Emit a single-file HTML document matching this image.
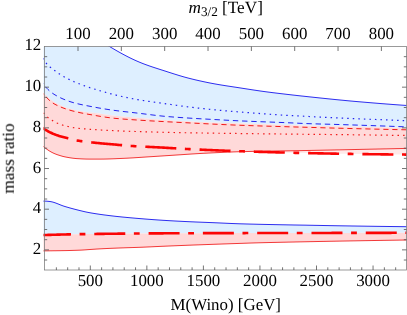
<!DOCTYPE html>
<html><head><meta charset="utf-8"><title>mass ratio plot</title>
<style>
html,body{margin:0;padding:0;background:#fff;}
body{width:407px;height:315px;overflow:hidden;font-family:"Liberation Serif",serif;}
svg{display:block;}
</style></head><body>
<svg width="407" height="315" viewBox="0 0 407 315">
<rect x="0" y="0" width="407" height="315" fill="#ffffff"/>
<defs><clipPath id="cp"><rect x="43.5" y="46.5" width="363.0" height="223.5"/></clipPath></defs>
<g clip-path="url(#cp)" fill="none">
<path d="M40.0 -20.00 L41.0 -18.73 L42.0 -17.48 L43.0 -16.23 L44.0 -15.00 L45.0 -13.78 L46.0 -12.56 L47.0 -11.36 L48.0 -10.16 L49.0 -8.98 L50.0 -7.80 L51.0 -6.63 L52.0 -5.48 L53.0 -4.33 L54.0 -3.19 L55.0 -2.05 L56.0 -0.93 L57.0 0.18 L58.0 1.29 L59.0 2.39 L60.0 3.48 L61.0 4.57 L62.0 5.64 L63.0 6.71 L64.0 7.77 L65.0 8.83 L66.0 9.87 L67.0 10.92 L68.0 11.95 L69.0 12.98 L70.0 14.00 L71.0 15.01 L72.0 16.00 L73.0 16.98 L74.0 17.94 L75.0 18.89 L76.0 19.82 L77.0 20.75 L78.0 21.67 L79.0 22.59 L80.0 23.50 L81.0 24.41 L82.0 25.32 L83.0 26.23 L84.0 27.14 L85.0 28.04 L86.0 28.93 L87.0 29.82 L88.0 30.70 L89.0 31.58 L90.0 32.43 L91.0 33.28 L92.0 34.11 L93.0 34.93 L94.0 35.72 L95.0 36.50 L96.0 37.26 L97.0 38.02 L98.0 38.76 L99.0 39.49 L100.0 40.21 L101.0 40.92 L102.0 41.62 L103.0 42.31 L104.0 42.99 L105.0 43.66 L106.0 44.31 L107.0 44.95 L108.0 45.58 L109.0 46.20 L110.0 46.80 L111.0 47.40 L112.0 48.00 L113.0 48.59 L114.0 49.18 L115.0 49.76 L116.0 50.34 L117.0 50.91 L118.0 51.48 L119.0 52.05 L120.0 52.60 L121.0 53.16 L122.0 53.70 L123.0 54.25 L124.0 54.78 L125.0 55.31 L126.0 55.83 L127.0 56.35 L128.0 56.86 L129.0 57.36 L130.0 57.86 L131.0 58.35 L132.0 58.83 L133.0 59.30 L134.0 59.77 L135.0 60.23 L136.0 60.68 L137.0 61.12 L138.0 61.56 L139.0 61.98 L140.0 62.40 L141.0 62.81 L142.0 63.21 L143.0 63.60 L144.0 63.98 L145.0 64.36 L146.0 64.73 L147.0 65.09 L148.0 65.45 L149.0 65.80 L150.0 66.15 L151.0 66.49 L152.0 66.83 L153.0 67.16 L154.0 67.49 L155.0 67.82 L156.0 68.14 L157.0 68.47 L158.0 68.79 L159.0 69.11 L160.0 69.43 L161.0 69.75 L162.0 70.07 L163.0 70.39 L164.0 70.71 L165.0 71.03 L166.0 71.35 L167.0 71.67 L168.0 72.00 L169.0 72.32 L170.0 72.64 L171.0 72.96 L172.0 73.28 L173.0 73.60 L174.0 73.92 L175.0 74.23 L176.0 74.54 L177.0 74.85 L178.0 75.16 L179.0 75.47 L180.0 75.77 L181.0 76.06 L182.0 76.36 L183.0 76.65 L184.0 76.93 L185.0 77.21 L186.0 77.48 L187.0 77.75 L188.0 78.02 L189.0 78.27 L190.0 78.53 L191.0 78.78 L192.0 79.03 L193.0 79.27 L194.0 79.51 L195.0 79.75 L196.0 79.99 L197.0 80.22 L198.0 80.45 L199.0 80.68 L200.0 80.90 L201.0 81.12 L202.0 81.34 L203.0 81.56 L204.0 81.77 L205.0 81.98 L206.0 82.19 L207.0 82.40 L208.0 82.60 L209.0 82.80 L210.0 83.00 L211.0 83.19 L212.0 83.38 L213.0 83.57 L214.0 83.76 L215.0 83.94 L216.0 84.12 L217.0 84.29 L218.0 84.47 L219.0 84.64 L220.0 84.80 L221.0 84.97 L222.0 85.13 L223.0 85.29 L224.0 85.45 L225.0 85.61 L226.0 85.77 L227.0 85.92 L228.0 86.08 L229.0 86.23 L230.0 86.38 L231.0 86.53 L232.0 86.68 L233.0 86.84 L234.0 86.99 L235.0 87.14 L236.0 87.29 L237.0 87.44 L238.0 87.59 L239.0 87.75 L240.0 87.90 L241.0 88.06 L242.0 88.21 L243.0 88.37 L244.0 88.52 L245.0 88.68 L246.0 88.83 L247.0 88.99 L248.0 89.15 L249.0 89.30 L250.0 89.46 L251.0 89.61 L252.0 89.77 L253.0 89.92 L254.0 90.07 L255.0 90.22 L256.0 90.37 L257.0 90.52 L258.0 90.67 L259.0 90.81 L260.0 90.96 L261.0 91.10 L262.0 91.24 L263.0 91.38 L264.0 91.52 L265.0 91.65 L266.0 91.79 L267.0 91.92 L268.0 92.05 L269.0 92.18 L270.0 92.31 L271.0 92.44 L272.0 92.56 L273.0 92.69 L274.0 92.81 L275.0 92.93 L276.0 93.06 L277.0 93.18 L278.0 93.30 L279.0 93.42 L280.0 93.54 L281.0 93.65 L282.0 93.77 L283.0 93.89 L284.0 94.01 L285.0 94.12 L286.0 94.24 L287.0 94.36 L288.0 94.47 L289.0 94.59 L290.0 94.70 L291.0 94.82 L292.0 94.93 L293.0 95.05 L294.0 95.16 L295.0 95.27 L296.0 95.38 L297.0 95.50 L298.0 95.61 L299.0 95.72 L300.0 95.83 L301.0 95.94 L302.0 96.05 L303.0 96.15 L304.0 96.26 L305.0 96.37 L306.0 96.48 L307.0 96.59 L308.0 96.69 L309.0 96.80 L310.0 96.91 L311.0 97.01 L312.0 97.12 L313.0 97.23 L314.0 97.33 L315.0 97.44 L316.0 97.54 L317.0 97.65 L318.0 97.76 L319.0 97.86 L320.0 97.97 L321.0 98.07 L322.0 98.18 L323.0 98.28 L324.0 98.38 L325.0 98.49 L326.0 98.59 L327.0 98.69 L328.0 98.80 L329.0 98.90 L330.0 99.00 L331.0 99.10 L332.0 99.21 L333.0 99.31 L334.0 99.41 L335.0 99.51 L336.0 99.61 L337.0 99.71 L338.0 99.80 L339.0 99.90 L340.0 100.00 L341.0 100.10 L342.0 100.19 L343.0 100.29 L344.0 100.39 L345.0 100.48 L346.0 100.58 L347.0 100.67 L348.0 100.77 L349.0 100.86 L350.0 100.95 L351.0 101.05 L352.0 101.14 L353.0 101.23 L354.0 101.32 L355.0 101.40 L356.0 101.49 L357.0 101.58 L358.0 101.66 L359.0 101.75 L360.0 101.84 L361.0 101.92 L362.0 102.01 L363.0 102.09 L364.0 102.18 L365.0 102.26 L366.0 102.35 L367.0 102.43 L368.0 102.51 L369.0 102.60 L370.0 102.68 L371.0 102.76 L372.0 102.85 L373.0 102.93 L374.0 103.01 L375.0 103.09 L376.0 103.17 L377.0 103.26 L378.0 103.34 L379.0 103.42 L380.0 103.50 L381.0 103.58 L382.0 103.66 L383.0 103.74 L384.0 103.81 L385.0 103.89 L386.0 103.97 L387.0 104.05 L388.0 104.12 L389.0 104.20 L390.0 104.28 L391.0 104.35 L392.0 104.43 L393.0 104.50 L394.0 104.58 L395.0 104.65 L396.0 104.73 L397.0 104.80 L398.0 104.87 L399.0 104.94 L400.0 105.01 L401.0 105.09 L402.0 105.16 L403.0 105.23 L404.0 105.29 L405.0 105.36 L406.0 105.43 L407.0 105.50 L407.0 128.00 L406.0 127.97 L405.0 127.95 L404.0 127.92 L403.0 127.90 L402.0 127.87 L401.0 127.84 L400.0 127.82 L399.0 127.79 L398.0 127.77 L397.0 127.74 L396.0 127.72 L395.0 127.69 L394.0 127.67 L393.0 127.64 L392.0 127.61 L391.0 127.59 L390.0 127.56 L389.0 127.54 L388.0 127.51 L387.0 127.49 L386.0 127.46 L385.0 127.44 L384.0 127.41 L383.0 127.39 L382.0 127.36 L381.0 127.34 L380.0 127.31 L379.0 127.29 L378.0 127.26 L377.0 127.24 L376.0 127.21 L375.0 127.19 L374.0 127.16 L373.0 127.14 L372.0 127.12 L371.0 127.09 L370.0 127.07 L369.0 127.04 L368.0 127.02 L367.0 126.99 L366.0 126.97 L365.0 126.94 L364.0 126.92 L363.0 126.90 L362.0 126.87 L361.0 126.85 L360.0 126.82 L359.0 126.80 L358.0 126.77 L357.0 126.75 L356.0 126.73 L355.0 126.70 L354.0 126.68 L353.0 126.65 L352.0 126.63 L351.0 126.61 L350.0 126.58 L349.0 126.56 L348.0 126.54 L347.0 126.51 L346.0 126.49 L345.0 126.46 L344.0 126.44 L343.0 126.42 L342.0 126.39 L341.0 126.37 L340.0 126.35 L339.0 126.32 L338.0 126.30 L337.0 126.28 L336.0 126.25 L335.0 126.23 L334.0 126.21 L333.0 126.19 L332.0 126.16 L331.0 126.14 L330.0 126.12 L329.0 126.10 L328.0 126.08 L327.0 126.06 L326.0 126.03 L325.0 126.01 L324.0 125.99 L323.0 125.97 L322.0 125.95 L321.0 125.93 L320.0 125.91 L319.0 125.88 L318.0 125.86 L317.0 125.84 L316.0 125.82 L315.0 125.79 L314.0 125.77 L313.0 125.75 L312.0 125.72 L311.0 125.70 L310.0 125.68 L309.0 125.65 L308.0 125.63 L307.0 125.60 L306.0 125.57 L305.0 125.55 L304.0 125.52 L303.0 125.49 L302.0 125.47 L301.0 125.44 L300.0 125.41 L299.0 125.38 L298.0 125.35 L297.0 125.32 L296.0 125.30 L295.0 125.27 L294.0 125.24 L293.0 125.21 L292.0 125.18 L291.0 125.15 L290.0 125.12 L289.0 125.08 L288.0 125.05 L287.0 125.02 L286.0 124.99 L285.0 124.96 L284.0 124.93 L283.0 124.90 L282.0 124.86 L281.0 124.83 L280.0 124.80 L279.0 124.77 L278.0 124.73 L277.0 124.70 L276.0 124.67 L275.0 124.63 L274.0 124.60 L273.0 124.57 L272.0 124.53 L271.0 124.50 L270.0 124.47 L269.0 124.43 L268.0 124.40 L267.0 124.36 L266.0 124.33 L265.0 124.30 L264.0 124.26 L263.0 124.23 L262.0 124.19 L261.0 124.16 L260.0 124.13 L259.0 124.09 L258.0 124.06 L257.0 124.02 L256.0 123.99 L255.0 123.96 L254.0 123.92 L253.0 123.89 L252.0 123.85 L251.0 123.82 L250.0 123.79 L249.0 123.75 L248.0 123.72 L247.0 123.69 L246.0 123.65 L245.0 123.62 L244.0 123.59 L243.0 123.55 L242.0 123.52 L241.0 123.49 L240.0 123.46 L239.0 123.42 L238.0 123.39 L237.0 123.36 L236.0 123.33 L235.0 123.30 L234.0 123.26 L233.0 123.23 L232.0 123.20 L231.0 123.17 L230.0 123.14 L229.0 123.11 L228.0 123.08 L227.0 123.05 L226.0 123.02 L225.0 122.99 L224.0 122.96 L223.0 122.93 L222.0 122.89 L221.0 122.86 L220.0 122.83 L219.0 122.79 L218.0 122.76 L217.0 122.72 L216.0 122.69 L215.0 122.65 L214.0 122.61 L213.0 122.57 L212.0 122.53 L211.0 122.49 L210.0 122.45 L209.0 122.40 L208.0 122.36 L207.0 122.31 L206.0 122.27 L205.0 122.22 L204.0 122.17 L203.0 122.12 L202.0 122.07 L201.0 122.02 L200.0 121.97 L199.0 121.92 L198.0 121.87 L197.0 121.82 L196.0 121.76 L195.0 121.71 L194.0 121.66 L193.0 121.61 L192.0 121.55 L191.0 121.50 L190.0 121.45 L189.0 121.39 L188.0 121.34 L187.0 121.29 L186.0 121.24 L185.0 121.18 L184.0 121.13 L183.0 121.08 L182.0 121.02 L181.0 120.97 L180.0 120.92 L179.0 120.86 L178.0 120.81 L177.0 120.75 L176.0 120.70 L175.0 120.64 L174.0 120.58 L173.0 120.52 L172.0 120.47 L171.0 120.41 L170.0 120.35 L169.0 120.28 L168.0 120.22 L167.0 120.16 L166.0 120.09 L165.0 120.03 L164.0 119.96 L163.0 119.89 L162.0 119.82 L161.0 119.75 L160.0 119.67 L159.0 119.60 L158.0 119.52 L157.0 119.44 L156.0 119.36 L155.0 119.28 L154.0 119.20 L153.0 119.12 L152.0 119.03 L151.0 118.95 L150.0 118.86 L149.0 118.78 L148.0 118.69 L147.0 118.61 L146.0 118.52 L145.0 118.43 L144.0 118.35 L143.0 118.26 L142.0 118.17 L141.0 118.09 L140.0 118.00 L139.0 117.91 L138.0 117.83 L137.0 117.74 L136.0 117.66 L135.0 117.58 L134.0 117.49 L133.0 117.41 L132.0 117.32 L131.0 117.24 L130.0 117.16 L129.0 117.07 L128.0 116.98 L127.0 116.90 L126.0 116.81 L125.0 116.72 L124.0 116.63 L123.0 116.54 L122.0 116.44 L121.0 116.35 L120.0 116.25 L119.0 116.16 L118.0 116.06 L117.0 115.95 L116.0 115.85 L115.0 115.74 L114.0 115.63 L113.0 115.52 L112.0 115.40 L111.0 115.28 L110.0 115.15 L109.0 115.01 L108.0 114.87 L107.0 114.73 L106.0 114.59 L105.0 114.44 L104.0 114.30 L103.0 114.16 L102.0 114.01 L101.0 113.87 L100.0 113.73 L99.0 113.60 L98.0 113.47 L97.0 113.34 L96.0 113.22 L95.0 113.10 L94.0 112.98 L93.0 112.86 L92.0 112.75 L91.0 112.62 L90.0 112.50 L89.0 112.38 L88.0 112.25 L87.0 112.11 L86.0 111.97 L85.0 111.82 L84.0 111.67 L83.0 111.51 L82.0 111.35 L81.0 111.18 L80.0 111.01 L79.0 110.83 L78.0 110.64 L77.0 110.45 L76.0 110.25 L75.0 110.04 L74.0 109.82 L73.0 109.59 L72.0 109.35 L71.0 109.10 L70.0 108.84 L69.0 108.56 L68.0 108.26 L67.0 107.94 L66.0 107.60 L65.0 107.23 L64.0 106.85 L63.0 106.44 L62.0 106.02 L61.0 105.57 L60.0 105.10 L59.0 104.62 L58.0 104.11 L57.0 103.58 L56.0 103.04 L55.0 102.47 L54.0 101.88 L53.0 101.23 L52.0 100.52 L51.0 99.76 L50.0 98.95 L49.0 98.10 L48.0 97.20 L47.0 96.27 L46.0 95.30 L45.0 94.30 L44.0 93.20 L43.0 92.01 L42.0 90.73 L41.0 89.39 L40.0 88.00 Z" fill="#deefff" stroke="none"/>
<path d="M40.0 88.00 L41.0 89.39 L42.0 90.73 L43.0 92.01 L44.0 93.20 L45.0 94.30 L46.0 95.30 L47.0 96.27 L48.0 97.20 L49.0 98.10 L50.0 98.95 L51.0 99.76 L52.0 100.52 L53.0 101.23 L54.0 101.88 L55.0 102.47 L56.0 103.04 L57.0 103.58 L58.0 104.11 L59.0 104.62 L60.0 105.10 L61.0 105.57 L62.0 106.02 L63.0 106.44 L64.0 106.85 L65.0 107.23 L66.0 107.60 L67.0 107.94 L68.0 108.26 L69.0 108.56 L70.0 108.84 L71.0 109.10 L72.0 109.35 L73.0 109.59 L74.0 109.82 L75.0 110.04 L76.0 110.25 L77.0 110.45 L78.0 110.64 L79.0 110.83 L80.0 111.01 L81.0 111.18 L82.0 111.35 L83.0 111.51 L84.0 111.67 L85.0 111.82 L86.0 111.97 L87.0 112.11 L88.0 112.25 L89.0 112.38 L90.0 112.50 L91.0 112.62 L92.0 112.75 L93.0 112.86 L94.0 112.98 L95.0 113.10 L96.0 113.22 L97.0 113.34 L98.0 113.47 L99.0 113.60 L100.0 113.73 L101.0 113.87 L102.0 114.01 L103.0 114.16 L104.0 114.30 L105.0 114.44 L106.0 114.59 L107.0 114.73 L108.0 114.87 L109.0 115.01 L110.0 115.15 L111.0 115.28 L112.0 115.40 L113.0 115.52 L114.0 115.63 L115.0 115.74 L116.0 115.85 L117.0 115.95 L118.0 116.06 L119.0 116.16 L120.0 116.25 L121.0 116.35 L122.0 116.44 L123.0 116.54 L124.0 116.63 L125.0 116.72 L126.0 116.81 L127.0 116.90 L128.0 116.98 L129.0 117.07 L130.0 117.16 L131.0 117.24 L132.0 117.32 L133.0 117.41 L134.0 117.49 L135.0 117.58 L136.0 117.66 L137.0 117.74 L138.0 117.83 L139.0 117.91 L140.0 118.00 L141.0 118.09 L142.0 118.17 L143.0 118.26 L144.0 118.35 L145.0 118.43 L146.0 118.52 L147.0 118.61 L148.0 118.69 L149.0 118.78 L150.0 118.86 L151.0 118.95 L152.0 119.03 L153.0 119.12 L154.0 119.20 L155.0 119.28 L156.0 119.36 L157.0 119.44 L158.0 119.52 L159.0 119.60 L160.0 119.67 L161.0 119.75 L162.0 119.82 L163.0 119.89 L164.0 119.96 L165.0 120.03 L166.0 120.09 L167.0 120.16 L168.0 120.22 L169.0 120.28 L170.0 120.35 L171.0 120.41 L172.0 120.47 L173.0 120.52 L174.0 120.58 L175.0 120.64 L176.0 120.70 L177.0 120.75 L178.0 120.81 L179.0 120.86 L180.0 120.92 L181.0 120.97 L182.0 121.02 L183.0 121.08 L184.0 121.13 L185.0 121.18 L186.0 121.24 L187.0 121.29 L188.0 121.34 L189.0 121.39 L190.0 121.45 L191.0 121.50 L192.0 121.55 L193.0 121.61 L194.0 121.66 L195.0 121.71 L196.0 121.76 L197.0 121.82 L198.0 121.87 L199.0 121.92 L200.0 121.97 L201.0 122.02 L202.0 122.07 L203.0 122.12 L204.0 122.17 L205.0 122.22 L206.0 122.27 L207.0 122.31 L208.0 122.36 L209.0 122.40 L210.0 122.45 L211.0 122.49 L212.0 122.53 L213.0 122.57 L214.0 122.61 L215.0 122.65 L216.0 122.69 L217.0 122.72 L218.0 122.76 L219.0 122.79 L220.0 122.83 L221.0 122.86 L222.0 122.89 L223.0 122.93 L224.0 122.96 L225.0 122.99 L226.0 123.02 L227.0 123.05 L228.0 123.08 L229.0 123.11 L230.0 123.14 L231.0 123.17 L232.0 123.20 L233.0 123.23 L234.0 123.26 L235.0 123.30 L236.0 123.33 L237.0 123.36 L238.0 123.39 L239.0 123.42 L240.0 123.46 L241.0 123.49 L242.0 123.52 L243.0 123.55 L244.0 123.59 L245.0 123.62 L246.0 123.65 L247.0 123.69 L248.0 123.72 L249.0 123.75 L250.0 123.79 L251.0 123.82 L252.0 123.85 L253.0 123.89 L254.0 123.92 L255.0 123.96 L256.0 123.99 L257.0 124.02 L258.0 124.06 L259.0 124.09 L260.0 124.13 L261.0 124.16 L262.0 124.19 L263.0 124.23 L264.0 124.26 L265.0 124.30 L266.0 124.33 L267.0 124.36 L268.0 124.40 L269.0 124.43 L270.0 124.47 L271.0 124.50 L272.0 124.53 L273.0 124.57 L274.0 124.60 L275.0 124.63 L276.0 124.67 L277.0 124.70 L278.0 124.73 L279.0 124.77 L280.0 124.80 L281.0 124.83 L282.0 124.86 L283.0 124.90 L284.0 124.93 L285.0 124.96 L286.0 124.99 L287.0 125.02 L288.0 125.05 L289.0 125.08 L290.0 125.12 L291.0 125.15 L292.0 125.18 L293.0 125.21 L294.0 125.24 L295.0 125.27 L296.0 125.30 L297.0 125.32 L298.0 125.35 L299.0 125.38 L300.0 125.41 L301.0 125.44 L302.0 125.47 L303.0 125.49 L304.0 125.52 L305.0 125.55 L306.0 125.57 L307.0 125.60 L308.0 125.63 L309.0 125.65 L310.0 125.68 L311.0 125.70 L312.0 125.72 L313.0 125.75 L314.0 125.77 L315.0 125.79 L316.0 125.82 L317.0 125.84 L318.0 125.86 L319.0 125.88 L320.0 125.91 L321.0 125.93 L322.0 125.95 L323.0 125.97 L324.0 125.99 L325.0 126.01 L326.0 126.03 L327.0 126.06 L328.0 126.08 L329.0 126.10 L330.0 126.12 L331.0 126.14 L332.0 126.16 L333.0 126.19 L334.0 126.21 L335.0 126.23 L336.0 126.25 L337.0 126.28 L338.0 126.30 L339.0 126.32 L340.0 126.35 L341.0 126.37 L342.0 126.39 L343.0 126.42 L344.0 126.44 L345.0 126.46 L346.0 126.49 L347.0 126.51 L348.0 126.54 L349.0 126.56 L350.0 126.58 L351.0 126.61 L352.0 126.63 L353.0 126.65 L354.0 126.68 L355.0 126.70 L356.0 126.73 L357.0 126.75 L358.0 126.77 L359.0 126.80 L360.0 126.82 L361.0 126.85 L362.0 126.87 L363.0 126.90 L364.0 126.92 L365.0 126.94 L366.0 126.97 L367.0 126.99 L368.0 127.02 L369.0 127.04 L370.0 127.07 L371.0 127.09 L372.0 127.12 L373.0 127.14 L374.0 127.16 L375.0 127.19 L376.0 127.21 L377.0 127.24 L378.0 127.26 L379.0 127.29 L380.0 127.31 L381.0 127.34 L382.0 127.36 L383.0 127.39 L384.0 127.41 L385.0 127.44 L386.0 127.46 L387.0 127.49 L388.0 127.51 L389.0 127.54 L390.0 127.56 L391.0 127.59 L392.0 127.61 L393.0 127.64 L394.0 127.67 L395.0 127.69 L396.0 127.72 L397.0 127.74 L398.0 127.77 L399.0 127.79 L400.0 127.82 L401.0 127.84 L402.0 127.87 L403.0 127.90 L404.0 127.92 L405.0 127.95 L406.0 127.97 L407.0 128.00 L407.0 148.40 L406.0 148.42 L405.0 148.44 L404.0 148.47 L403.0 148.49 L402.0 148.51 L401.0 148.53 L400.0 148.55 L399.0 148.58 L398.0 148.60 L397.0 148.62 L396.0 148.64 L395.0 148.66 L394.0 148.69 L393.0 148.71 L392.0 148.73 L391.0 148.75 L390.0 148.77 L389.0 148.80 L388.0 148.82 L387.0 148.84 L386.0 148.86 L385.0 148.88 L384.0 148.90 L383.0 148.93 L382.0 148.95 L381.0 148.97 L380.0 148.99 L379.0 149.01 L378.0 149.03 L377.0 149.05 L376.0 149.08 L375.0 149.10 L374.0 149.12 L373.0 149.14 L372.0 149.16 L371.0 149.18 L370.0 149.20 L369.0 149.23 L368.0 149.25 L367.0 149.27 L366.0 149.29 L365.0 149.31 L364.0 149.33 L363.0 149.35 L362.0 149.37 L361.0 149.39 L360.0 149.42 L359.0 149.44 L358.0 149.46 L357.0 149.48 L356.0 149.50 L355.0 149.52 L354.0 149.54 L353.0 149.56 L352.0 149.58 L351.0 149.60 L350.0 149.63 L349.0 149.65 L348.0 149.67 L347.0 149.69 L346.0 149.71 L345.0 149.73 L344.0 149.75 L343.0 149.77 L342.0 149.79 L341.0 149.81 L340.0 149.84 L339.0 149.86 L338.0 149.88 L337.0 149.90 L336.0 149.92 L335.0 149.94 L334.0 149.96 L333.0 149.98 L332.0 150.00 L331.0 150.02 L330.0 150.04 L329.0 150.06 L328.0 150.08 L327.0 150.10 L326.0 150.12 L325.0 150.14 L324.0 150.16 L323.0 150.18 L322.0 150.20 L321.0 150.22 L320.0 150.24 L319.0 150.27 L318.0 150.28 L317.0 150.30 L316.0 150.32 L315.0 150.34 L314.0 150.36 L313.0 150.38 L312.0 150.40 L311.0 150.42 L310.0 150.44 L309.0 150.46 L308.0 150.48 L307.0 150.50 L306.0 150.52 L305.0 150.54 L304.0 150.56 L303.0 150.57 L302.0 150.59 L301.0 150.61 L300.0 150.63 L299.0 150.64 L298.0 150.66 L297.0 150.68 L296.0 150.69 L295.0 150.71 L294.0 150.73 L293.0 150.74 L292.0 150.76 L291.0 150.77 L290.0 150.79 L289.0 150.80 L288.0 150.82 L287.0 150.83 L286.0 150.85 L285.0 150.86 L284.0 150.88 L283.0 150.89 L282.0 150.91 L281.0 150.92 L280.0 150.94 L279.0 150.95 L278.0 150.97 L277.0 150.98 L276.0 151.00 L275.0 151.01 L274.0 151.03 L273.0 151.05 L272.0 151.06 L271.0 151.08 L270.0 151.09 L269.0 151.11 L268.0 151.12 L267.0 151.14 L266.0 151.16 L265.0 151.17 L264.0 151.19 L263.0 151.21 L262.0 151.23 L261.0 151.24 L260.0 151.26 L259.0 151.28 L258.0 151.30 L257.0 151.32 L256.0 151.34 L255.0 151.36 L254.0 151.38 L253.0 151.40 L252.0 151.42 L251.0 151.44 L250.0 151.46 L249.0 151.48 L248.0 151.50 L247.0 151.53 L246.0 151.55 L245.0 151.57 L244.0 151.60 L243.0 151.62 L242.0 151.65 L241.0 151.67 L240.0 151.70 L239.0 151.73 L238.0 151.76 L237.0 151.79 L236.0 151.82 L235.0 151.86 L234.0 151.89 L233.0 151.93 L232.0 151.97 L231.0 152.01 L230.0 152.05 L229.0 152.09 L228.0 152.13 L227.0 152.18 L226.0 152.22 L225.0 152.27 L224.0 152.31 L223.0 152.36 L222.0 152.41 L221.0 152.45 L220.0 152.50 L219.0 152.55 L218.0 152.60 L217.0 152.64 L216.0 152.69 L215.0 152.74 L214.0 152.79 L213.0 152.83 L212.0 152.88 L211.0 152.93 L210.0 152.98 L209.0 153.03 L208.0 153.07 L207.0 153.13 L206.0 153.18 L205.0 153.23 L204.0 153.28 L203.0 153.33 L202.0 153.39 L201.0 153.44 L200.0 153.50 L199.0 153.56 L198.0 153.62 L197.0 153.67 L196.0 153.73 L195.0 153.80 L194.0 153.86 L193.0 153.92 L192.0 153.98 L191.0 154.05 L190.0 154.11 L189.0 154.18 L188.0 154.25 L187.0 154.31 L186.0 154.38 L185.0 154.45 L184.0 154.51 L183.0 154.58 L182.0 154.65 L181.0 154.72 L180.0 154.78 L179.0 154.85 L178.0 154.92 L177.0 154.98 L176.0 155.05 L175.0 155.12 L174.0 155.18 L173.0 155.25 L172.0 155.31 L171.0 155.38 L170.0 155.44 L169.0 155.51 L168.0 155.57 L167.0 155.64 L166.0 155.70 L165.0 155.77 L164.0 155.83 L163.0 155.90 L162.0 155.97 L161.0 156.03 L160.0 156.10 L159.0 156.16 L158.0 156.23 L157.0 156.29 L156.0 156.36 L155.0 156.42 L154.0 156.49 L153.0 156.55 L152.0 156.62 L151.0 156.68 L150.0 156.74 L149.0 156.81 L148.0 156.87 L147.0 156.93 L146.0 157.00 L145.0 157.07 L144.0 157.13 L143.0 157.20 L142.0 157.27 L141.0 157.34 L140.0 157.40 L139.0 157.47 L138.0 157.54 L137.0 157.60 L136.0 157.67 L135.0 157.73 L134.0 157.80 L133.0 157.86 L132.0 157.92 L131.0 157.98 L130.0 158.03 L129.0 158.09 L128.0 158.14 L127.0 158.19 L126.0 158.24 L125.0 158.28 L124.0 158.33 L123.0 158.37 L122.0 158.41 L121.0 158.46 L120.0 158.50 L119.0 158.55 L118.0 158.59 L117.0 158.64 L116.0 158.68 L115.0 158.72 L114.0 158.76 L113.0 158.80 L112.0 158.84 L111.0 158.88 L110.0 158.91 L109.0 158.95 L108.0 158.98 L107.0 159.00 L106.0 159.03 L105.0 159.05 L104.0 159.07 L103.0 159.08 L102.0 159.09 L101.0 159.10 L100.0 159.10 L99.0 159.10 L98.0 159.10 L97.0 159.10 L96.0 159.10 L95.0 159.10 L94.0 159.10 L93.0 159.10 L92.0 159.10 L91.0 159.10 L90.0 159.10 L89.0 159.10 L88.0 159.09 L87.0 159.08 L86.0 159.06 L85.0 159.03 L84.0 158.99 L83.0 158.95 L82.0 158.90 L81.0 158.85 L80.0 158.79 L79.0 158.73 L78.0 158.67 L77.0 158.61 L76.0 158.54 L75.0 158.45 L74.0 158.34 L73.0 158.22 L72.0 158.09 L71.0 157.95 L70.0 157.79 L69.0 157.62 L68.0 157.45 L67.0 157.27 L66.0 157.08 L65.0 156.88 L64.0 156.67 L63.0 156.43 L62.0 156.16 L61.0 155.86 L60.0 155.55 L59.0 155.24 L58.0 154.91 L57.0 154.58 L56.0 154.21 L55.0 153.82 L54.0 153.40 L53.0 152.93 L52.0 152.43 L51.0 151.90 L50.0 151.32 L49.0 150.71 L48.0 150.04 L47.0 149.34 L46.0 148.61 L45.0 147.85 L44.0 147.05 L43.0 146.22 L42.0 145.35 L41.0 144.44 L40.0 143.50 Z" fill="#ffd9d9" stroke="none"/>
<path d="M249.0 151.48 L250.0 151.46 L251.0 151.44 L252.0 151.42 L253.0 151.40 L254.0 151.38 L255.0 151.36 L256.0 151.34 L257.0 151.32 L258.0 151.30 L259.0 151.28 L260.0 151.26 L261.0 151.24 L262.0 151.23 L263.0 151.21 L264.0 151.19 L265.0 151.17 L266.0 151.16 L267.0 151.14 L268.0 151.12 L269.0 151.11 L270.0 151.09 L271.0 151.08 L272.0 151.06 L273.0 151.05 L274.0 151.03 L275.0 151.01 L276.0 151.00 L277.0 150.98 L278.0 150.97 L279.0 150.95 L280.0 150.94 L281.0 150.92 L282.0 150.91 L283.0 150.89 L284.0 150.88 L285.0 150.86 L286.0 150.85 L287.0 150.83 L288.0 150.82 L289.0 150.80 L290.0 150.79 L291.0 150.77 L292.0 150.76 L293.0 150.74 L294.0 150.73 L295.0 150.71 L296.0 150.69 L297.0 150.68 L298.0 150.66 L299.0 150.64 L300.0 150.63 L301.0 150.61 L302.0 150.59 L303.0 150.57 L304.0 150.56 L305.0 150.54 L306.0 150.52 L307.0 150.50 L308.0 150.48 L309.0 150.46 L310.0 150.44 L311.0 150.42 L312.0 150.40 L313.0 150.38 L314.0 150.36 L315.0 150.34 L316.0 150.32 L317.0 150.30 L318.0 150.28 L319.0 150.27 L320.0 150.24 L321.0 150.22 L322.0 150.20 L323.0 150.18 L324.0 150.16 L325.0 150.14 L326.0 150.12 L327.0 150.10 L328.0 150.08 L329.0 150.06 L330.0 150.04 L331.0 150.02 L332.0 150.00 L333.0 149.98 L334.0 149.96 L335.0 149.94 L336.0 149.92 L337.0 149.90 L338.0 149.88 L339.0 149.86 L340.0 149.84 L341.0 149.81 L342.0 149.79 L343.0 149.77 L344.0 149.75 L345.0 149.73 L346.0 149.71 L347.0 149.69 L348.0 149.67 L349.0 149.65 L350.0 149.63 L351.0 149.60 L352.0 149.58 L353.0 149.56 L354.0 149.54 L355.0 149.52 L356.0 149.50 L357.0 149.48 L358.0 149.46 L359.0 149.44 L360.0 149.42 L361.0 149.39 L362.0 149.37 L363.0 149.35 L364.0 149.33 L365.0 149.31 L366.0 149.29 L367.0 149.27 L368.0 149.25 L369.0 149.23 L370.0 149.20 L371.0 149.18 L372.0 149.16 L373.0 149.14 L374.0 149.12 L375.0 149.10 L376.0 149.08 L377.0 149.05 L378.0 149.03 L379.0 149.01 L380.0 148.99 L381.0 148.97 L382.0 148.95 L383.0 148.93 L384.0 148.90 L385.0 148.88 L386.0 148.86 L387.0 148.84 L388.0 148.82 L389.0 148.80 L390.0 148.77 L391.0 148.75 L392.0 148.73 L393.0 148.71 L394.0 148.69 L395.0 148.66 L396.0 148.64 L397.0 148.62 L398.0 148.60 L399.0 148.58 L400.0 148.55 L401.0 148.53 L402.0 148.51 L403.0 148.49 L404.0 148.47 L405.0 148.44 L406.0 148.42 L407.0 148.40 L407.0 154.60 L406.0 154.59 L405.0 154.58 L404.0 154.57 L403.0 154.57 L402.0 154.56 L401.0 154.55 L400.0 154.54 L399.0 154.53 L398.0 154.52 L397.0 154.51 L396.0 154.50 L395.0 154.49 L394.0 154.48 L393.0 154.47 L392.0 154.46 L391.0 154.45 L390.0 154.44 L389.0 154.43 L388.0 154.42 L387.0 154.41 L386.0 154.39 L385.0 154.38 L384.0 154.37 L383.0 154.36 L382.0 154.35 L381.0 154.34 L380.0 154.32 L379.0 154.31 L378.0 154.30 L377.0 154.29 L376.0 154.27 L375.0 154.26 L374.0 154.25 L373.0 154.24 L372.0 154.22 L371.0 154.21 L370.0 154.20 L369.0 154.18 L368.0 154.17 L367.0 154.16 L366.0 154.14 L365.0 154.13 L364.0 154.11 L363.0 154.10 L362.0 154.08 L361.0 154.07 L360.0 154.06 L359.0 154.04 L358.0 154.03 L357.0 154.01 L356.0 154.00 L355.0 153.98 L354.0 153.97 L353.0 153.95 L352.0 153.93 L351.0 153.92 L350.0 153.90 L349.0 153.89 L348.0 153.87 L347.0 153.85 L346.0 153.84 L345.0 153.82 L344.0 153.80 L343.0 153.79 L342.0 153.77 L341.0 153.75 L340.0 153.74 L339.0 153.72 L338.0 153.70 L337.0 153.68 L336.0 153.67 L335.0 153.65 L334.0 153.63 L333.0 153.61 L332.0 153.59 L331.0 153.58 L330.0 153.56 L329.0 153.54 L328.0 153.52 L327.0 153.50 L326.0 153.48 L325.0 153.46 L324.0 153.44 L323.0 153.42 L322.0 153.41 L321.0 153.39 L320.0 153.37 L319.0 153.35 L318.0 153.33 L317.0 153.31 L316.0 153.29 L315.0 153.27 L314.0 153.25 L313.0 153.23 L312.0 153.20 L311.0 153.18 L310.0 153.16 L309.0 153.14 L308.0 153.12 L307.0 153.10 L306.0 153.08 L305.0 153.06 L304.0 153.04 L303.0 153.01 L302.0 152.99 L301.0 152.97 L300.0 152.95 L299.0 152.92 L298.0 152.90 L297.0 152.88 L296.0 152.85 L295.0 152.83 L294.0 152.80 L293.0 152.78 L292.0 152.75 L291.0 152.73 L290.0 152.70 L289.0 152.68 L288.0 152.65 L287.0 152.63 L286.0 152.60 L285.0 152.58 L284.0 152.55 L283.0 152.52 L282.0 152.50 L281.0 152.47 L280.0 152.44 L279.0 152.42 L278.0 152.39 L277.0 152.36 L276.0 152.33 L275.0 152.30 L274.0 152.28 L273.0 152.25 L272.0 152.22 L271.0 152.19 L270.0 152.16 L269.0 152.13 L268.0 152.10 L267.0 152.07 L266.0 152.04 L265.0 152.01 L264.0 151.98 L263.0 151.95 L262.0 151.92 L261.0 151.89 L260.0 151.86 L259.0 151.83 L258.0 151.80 L257.0 151.77 L256.0 151.74 L255.0 151.70 L254.0 151.67 L253.0 151.64 L252.0 151.61 L251.0 151.58 L250.0 151.54 L249.0 151.51 Z" fill="#ffe9e9" stroke="none"/>
<path d="M40.0 201.30 L41.0 201.21 L42.0 201.16 L43.0 201.12 L44.0 201.10 L45.0 201.11 L46.0 201.14 L47.0 201.21 L48.0 201.31 L49.0 201.41 L50.0 201.52 L51.0 201.68 L52.0 201.89 L53.0 202.15 L54.0 202.44 L55.0 202.78 L56.0 203.14 L57.0 203.52 L58.0 203.92 L59.0 204.32 L60.0 204.73 L61.0 205.13 L62.0 205.51 L63.0 205.88 L64.0 206.21 L65.0 206.52 L66.0 206.82 L67.0 207.11 L68.0 207.40 L69.0 207.69 L70.0 207.97 L71.0 208.25 L72.0 208.52 L73.0 208.79 L74.0 209.05 L75.0 209.32 L76.0 209.57 L77.0 209.83 L78.0 210.08 L79.0 210.33 L80.0 210.58 L81.0 210.82 L82.0 211.07 L83.0 211.31 L84.0 211.54 L85.0 211.77 L86.0 211.99 L87.0 212.20 L88.0 212.39 L89.0 212.58 L90.0 212.76 L91.0 212.94 L92.0 213.11 L93.0 213.27 L94.0 213.44 L95.0 213.60 L96.0 213.76 L97.0 213.91 L98.0 214.06 L99.0 214.21 L100.0 214.36 L101.0 214.50 L102.0 214.64 L103.0 214.77 L104.0 214.91 L105.0 215.04 L106.0 215.17 L107.0 215.30 L108.0 215.42 L109.0 215.55 L110.0 215.67 L111.0 215.79 L112.0 215.90 L113.0 216.02 L114.0 216.13 L115.0 216.25 L116.0 216.36 L117.0 216.47 L118.0 216.57 L119.0 216.68 L120.0 216.78 L121.0 216.89 L122.0 216.99 L123.0 217.09 L124.0 217.18 L125.0 217.28 L126.0 217.37 L127.0 217.47 L128.0 217.56 L129.0 217.65 L130.0 217.74 L131.0 217.83 L132.0 217.92 L133.0 218.01 L134.0 218.09 L135.0 218.18 L136.0 218.27 L137.0 218.35 L138.0 218.43 L139.0 218.52 L140.0 218.60 L141.0 218.68 L142.0 218.76 L143.0 218.84 L144.0 218.93 L145.0 219.01 L146.0 219.08 L147.0 219.16 L148.0 219.24 L149.0 219.32 L150.0 219.39 L151.0 219.47 L152.0 219.54 L153.0 219.62 L154.0 219.69 L155.0 219.76 L156.0 219.83 L157.0 219.90 L158.0 219.97 L159.0 220.04 L160.0 220.11 L161.0 220.17 L162.0 220.24 L163.0 220.30 L164.0 220.36 L165.0 220.42 L166.0 220.49 L167.0 220.55 L168.0 220.60 L169.0 220.66 L170.0 220.72 L171.0 220.78 L172.0 220.83 L173.0 220.89 L174.0 220.94 L175.0 221.00 L176.0 221.05 L177.0 221.11 L178.0 221.16 L179.0 221.21 L180.0 221.26 L181.0 221.31 L182.0 221.36 L183.0 221.41 L184.0 221.46 L185.0 221.51 L186.0 221.56 L187.0 221.60 L188.0 221.65 L189.0 221.70 L190.0 221.74 L191.0 221.79 L192.0 221.83 L193.0 221.87 L194.0 221.92 L195.0 221.96 L196.0 222.00 L197.0 222.04 L198.0 222.08 L199.0 222.12 L200.0 222.16 L201.0 222.20 L202.0 222.24 L203.0 222.28 L204.0 222.32 L205.0 222.35 L206.0 222.39 L207.0 222.43 L208.0 222.47 L209.0 222.51 L210.0 222.55 L211.0 222.59 L212.0 222.63 L213.0 222.67 L214.0 222.71 L215.0 222.75 L216.0 222.80 L217.0 222.84 L218.0 222.88 L219.0 222.93 L220.0 222.97 L221.0 223.02 L222.0 223.07 L223.0 223.11 L224.0 223.16 L225.0 223.20 L226.0 223.25 L227.0 223.29 L228.0 223.34 L229.0 223.38 L230.0 223.43 L231.0 223.47 L232.0 223.51 L233.0 223.55 L234.0 223.59 L235.0 223.63 L236.0 223.67 L237.0 223.70 L238.0 223.74 L239.0 223.77 L240.0 223.80 L241.0 223.83 L242.0 223.86 L243.0 223.89 L244.0 223.92 L245.0 223.94 L246.0 223.97 L247.0 224.00 L248.0 224.03 L249.0 224.05 L250.0 224.08 L251.0 224.10 L252.0 224.13 L253.0 224.15 L254.0 224.18 L255.0 224.20 L256.0 224.23 L257.0 224.25 L258.0 224.27 L259.0 224.30 L260.0 224.32 L261.0 224.34 L262.0 224.36 L263.0 224.39 L264.0 224.41 L265.0 224.43 L266.0 224.45 L267.0 224.47 L268.0 224.49 L269.0 224.51 L270.0 224.53 L271.0 224.55 L272.0 224.57 L273.0 224.59 L274.0 224.61 L275.0 224.63 L276.0 224.65 L277.0 224.67 L278.0 224.69 L279.0 224.71 L280.0 224.73 L281.0 224.75 L282.0 224.77 L283.0 224.79 L284.0 224.80 L285.0 224.82 L286.0 224.84 L287.0 224.86 L288.0 224.88 L289.0 224.90 L290.0 224.92 L291.0 224.93 L292.0 224.95 L293.0 224.97 L294.0 224.99 L295.0 225.00 L296.0 225.02 L297.0 225.04 L298.0 225.05 L299.0 225.07 L300.0 225.08 L301.0 225.10 L302.0 225.12 L303.0 225.13 L304.0 225.15 L305.0 225.17 L306.0 225.18 L307.0 225.20 L308.0 225.22 L309.0 225.24 L310.0 225.25 L311.0 225.27 L312.0 225.29 L313.0 225.31 L314.0 225.33 L315.0 225.35 L316.0 225.36 L317.0 225.38 L318.0 225.40 L319.0 225.42 L320.0 225.44 L321.0 225.46 L322.0 225.48 L323.0 225.50 L324.0 225.52 L325.0 225.54 L326.0 225.55 L327.0 225.57 L328.0 225.59 L329.0 225.61 L330.0 225.63 L331.0 225.65 L332.0 225.66 L333.0 225.68 L334.0 225.70 L335.0 225.72 L336.0 225.73 L337.0 225.75 L338.0 225.77 L339.0 225.78 L340.0 225.80 L341.0 225.82 L342.0 225.83 L343.0 225.85 L344.0 225.86 L345.0 225.88 L346.0 225.89 L347.0 225.91 L348.0 225.92 L349.0 225.94 L350.0 225.95 L351.0 225.97 L352.0 225.99 L353.0 226.00 L354.0 226.02 L355.0 226.03 L356.0 226.05 L357.0 226.06 L358.0 226.08 L359.0 226.09 L360.0 226.10 L361.0 226.12 L362.0 226.13 L363.0 226.15 L364.0 226.16 L365.0 226.18 L366.0 226.19 L367.0 226.21 L368.0 226.22 L369.0 226.23 L370.0 226.25 L371.0 226.26 L372.0 226.28 L373.0 226.29 L374.0 226.30 L375.0 226.32 L376.0 226.33 L377.0 226.34 L378.0 226.36 L379.0 226.37 L380.0 226.38 L381.0 226.40 L382.0 226.41 L383.0 226.42 L384.0 226.43 L385.0 226.45 L386.0 226.46 L387.0 226.47 L388.0 226.48 L389.0 226.50 L390.0 226.51 L391.0 226.52 L392.0 226.53 L393.0 226.55 L394.0 226.56 L395.0 226.57 L396.0 226.58 L397.0 226.59 L398.0 226.60 L399.0 226.61 L400.0 226.63 L401.0 226.64 L402.0 226.65 L403.0 226.66 L404.0 226.67 L405.0 226.68 L406.0 226.69 L407.0 226.70 L407.0 232.80 L406.0 232.80 L405.0 232.80 L404.0 232.80 L403.0 232.81 L402.0 232.81 L401.0 232.81 L400.0 232.81 L399.0 232.81 L398.0 232.81 L397.0 232.82 L396.0 232.82 L395.0 232.82 L394.0 232.82 L393.0 232.82 L392.0 232.82 L391.0 232.83 L390.0 232.83 L389.0 232.83 L388.0 232.83 L387.0 232.83 L386.0 232.83 L385.0 232.83 L384.0 232.84 L383.0 232.84 L382.0 232.84 L381.0 232.84 L380.0 232.84 L379.0 232.84 L378.0 232.85 L377.0 232.85 L376.0 232.85 L375.0 232.85 L374.0 232.85 L373.0 232.85 L372.0 232.86 L371.0 232.86 L370.0 232.86 L369.0 232.86 L368.0 232.86 L367.0 232.86 L366.0 232.87 L365.0 232.87 L364.0 232.87 L363.0 232.87 L362.0 232.87 L361.0 232.87 L360.0 232.88 L359.0 232.88 L358.0 232.88 L357.0 232.88 L356.0 232.88 L355.0 232.88 L354.0 232.89 L353.0 232.89 L352.0 232.89 L351.0 232.89 L350.0 232.89 L349.0 232.89 L348.0 232.90 L347.0 232.90 L346.0 232.90 L345.0 232.90 L344.0 232.90 L343.0 232.91 L342.0 232.91 L341.0 232.91 L340.0 232.91 L339.0 232.91 L338.0 232.91 L337.0 232.92 L336.0 232.92 L335.0 232.92 L334.0 232.92 L333.0 232.92 L332.0 232.92 L331.0 232.93 L330.0 232.93 L329.0 232.93 L328.0 232.93 L327.0 232.93 L326.0 232.93 L325.0 232.94 L324.0 232.94 L323.0 232.94 L322.0 232.94 L321.0 232.94 L320.0 232.95 L319.0 232.95 L318.0 232.95 L317.0 232.95 L316.0 232.95 L315.0 232.95 L314.0 232.96 L313.0 232.96 L312.0 232.96 L311.0 232.96 L310.0 232.96 L309.0 232.97 L308.0 232.97 L307.0 232.97 L306.0 232.97 L305.0 232.97 L304.0 232.97 L303.0 232.98 L302.0 232.98 L301.0 232.98 L300.0 232.98 L299.0 232.98 L298.0 232.99 L297.0 232.99 L296.0 232.99 L295.0 232.99 L294.0 232.99 L293.0 232.99 L292.0 233.00 L291.0 233.00 L290.0 233.00 L289.0 233.00 L288.0 233.00 L287.0 233.01 L286.0 233.01 L285.0 233.01 L284.0 233.01 L283.0 233.01 L282.0 233.01 L281.0 233.02 L280.0 233.02 L279.0 233.02 L278.0 233.02 L277.0 233.02 L276.0 233.02 L275.0 233.03 L274.0 233.03 L273.0 233.03 L272.0 233.03 L271.0 233.03 L270.0 233.03 L269.0 233.04 L268.0 233.04 L267.0 233.04 L266.0 233.04 L265.0 233.04 L264.0 233.04 L263.0 233.05 L262.0 233.05 L261.0 233.05 L260.0 233.05 L259.0 233.05 L258.0 233.05 L257.0 233.06 L256.0 233.06 L255.0 233.06 L254.0 233.06 L253.0 233.06 L252.0 233.06 L251.0 233.07 L250.0 233.07 L249.0 233.07 L248.0 233.07 L247.0 233.07 L246.0 233.07 L245.0 233.08 L244.0 233.08 L243.0 233.08 L242.0 233.08 L241.0 233.08 L240.0 233.08 L239.0 233.09 L238.0 233.09 L237.0 233.09 L236.0 233.09 L235.0 233.09 L234.0 233.09 L233.0 233.10 L232.0 233.10 L231.0 233.10 L230.0 233.10 L229.0 233.10 L228.0 233.11 L227.0 233.11 L226.0 233.11 L225.0 233.11 L224.0 233.11 L223.0 233.12 L222.0 233.12 L221.0 233.12 L220.0 233.12 L219.0 233.12 L218.0 233.13 L217.0 233.13 L216.0 233.13 L215.0 233.13 L214.0 233.14 L213.0 233.14 L212.0 233.14 L211.0 233.14 L210.0 233.14 L209.0 233.15 L208.0 233.15 L207.0 233.15 L206.0 233.15 L205.0 233.16 L204.0 233.16 L203.0 233.16 L202.0 233.17 L201.0 233.17 L200.0 233.17 L199.0 233.17 L198.0 233.18 L197.0 233.18 L196.0 233.18 L195.0 233.18 L194.0 233.19 L193.0 233.19 L192.0 233.19 L191.0 233.20 L190.0 233.20 L189.0 233.20 L188.0 233.21 L187.0 233.21 L186.0 233.21 L185.0 233.22 L184.0 233.22 L183.0 233.22 L182.0 233.23 L181.0 233.23 L180.0 233.24 L179.0 233.24 L178.0 233.25 L177.0 233.25 L176.0 233.26 L175.0 233.26 L174.0 233.27 L173.0 233.27 L172.0 233.28 L171.0 233.28 L170.0 233.29 L169.0 233.29 L168.0 233.30 L167.0 233.30 L166.0 233.31 L165.0 233.31 L164.0 233.32 L163.0 233.33 L162.0 233.33 L161.0 233.34 L160.0 233.34 L159.0 233.35 L158.0 233.36 L157.0 233.36 L156.0 233.37 L155.0 233.38 L154.0 233.38 L153.0 233.39 L152.0 233.40 L151.0 233.40 L150.0 233.41 L149.0 233.42 L148.0 233.43 L147.0 233.43 L146.0 233.44 L145.0 233.45 L144.0 233.46 L143.0 233.46 L142.0 233.47 L141.0 233.48 L140.0 233.49 L139.0 233.49 L138.0 233.50 L137.0 233.51 L136.0 233.52 L135.0 233.53 L134.0 233.53 L133.0 233.54 L132.0 233.55 L131.0 233.56 L130.0 233.57 L129.0 233.57 L128.0 233.58 L127.0 233.59 L126.0 233.60 L125.0 233.61 L124.0 233.62 L123.0 233.63 L122.0 233.64 L121.0 233.64 L120.0 233.65 L119.0 233.66 L118.0 233.67 L117.0 233.68 L116.0 233.69 L115.0 233.70 L114.0 233.71 L113.0 233.72 L112.0 233.73 L111.0 233.75 L110.0 233.76 L109.0 233.77 L108.0 233.78 L107.0 233.79 L106.0 233.80 L105.0 233.81 L104.0 233.83 L103.0 233.84 L102.0 233.85 L101.0 233.86 L100.0 233.87 L99.0 233.89 L98.0 233.90 L97.0 233.91 L96.0 233.93 L95.0 233.94 L94.0 233.95 L93.0 233.97 L92.0 233.98 L91.0 234.00 L90.0 234.01 L89.0 234.02 L88.0 234.04 L87.0 234.05 L86.0 234.07 L85.0 234.08 L84.0 234.10 L83.0 234.12 L82.0 234.13 L81.0 234.15 L80.0 234.16 L79.0 234.18 L78.0 234.20 L77.0 234.21 L76.0 234.23 L75.0 234.25 L74.0 234.26 L73.0 234.28 L72.0 234.30 L71.0 234.32 L70.0 234.34 L69.0 234.36 L68.0 234.38 L67.0 234.40 L66.0 234.43 L65.0 234.45 L64.0 234.48 L63.0 234.50 L62.0 234.53 L61.0 234.56 L60.0 234.58 L59.0 234.61 L58.0 234.64 L57.0 234.67 L56.0 234.69 L55.0 234.72 L54.0 234.75 L53.0 234.78 L52.0 234.81 L51.0 234.83 L50.0 234.86 L49.0 234.89 L48.0 234.91 L47.0 234.94 L46.0 234.96 L45.0 234.99 L44.0 235.01 L43.0 235.03 L42.0 235.06 L41.0 235.08 L40.0 235.10 Z" fill="#deefff" stroke="none"/>
<path d="M40.0 235.10 L41.0 235.08 L42.0 235.06 L43.0 235.03 L44.0 235.01 L45.0 234.99 L46.0 234.96 L47.0 234.94 L48.0 234.91 L49.0 234.89 L50.0 234.86 L51.0 234.83 L52.0 234.81 L53.0 234.78 L54.0 234.75 L55.0 234.72 L56.0 234.69 L57.0 234.67 L58.0 234.64 L59.0 234.61 L60.0 234.58 L61.0 234.56 L62.0 234.53 L63.0 234.50 L64.0 234.48 L65.0 234.45 L66.0 234.43 L67.0 234.40 L68.0 234.38 L69.0 234.36 L70.0 234.34 L71.0 234.32 L72.0 234.30 L73.0 234.28 L74.0 234.26 L75.0 234.25 L76.0 234.23 L77.0 234.21 L78.0 234.20 L79.0 234.18 L80.0 234.16 L81.0 234.15 L82.0 234.13 L83.0 234.12 L84.0 234.10 L85.0 234.08 L86.0 234.07 L87.0 234.05 L88.0 234.04 L89.0 234.02 L90.0 234.01 L91.0 234.00 L92.0 233.98 L93.0 233.97 L94.0 233.95 L95.0 233.94 L96.0 233.93 L97.0 233.91 L98.0 233.90 L99.0 233.89 L100.0 233.87 L101.0 233.86 L102.0 233.85 L103.0 233.84 L104.0 233.83 L105.0 233.81 L106.0 233.80 L107.0 233.79 L108.0 233.78 L109.0 233.77 L110.0 233.76 L111.0 233.75 L112.0 233.73 L113.0 233.72 L114.0 233.71 L115.0 233.70 L116.0 233.69 L117.0 233.68 L118.0 233.67 L119.0 233.66 L120.0 233.65 L121.0 233.64 L122.0 233.64 L123.0 233.63 L124.0 233.62 L125.0 233.61 L126.0 233.60 L127.0 233.59 L128.0 233.58 L129.0 233.57 L130.0 233.57 L131.0 233.56 L132.0 233.55 L133.0 233.54 L134.0 233.53 L135.0 233.53 L136.0 233.52 L137.0 233.51 L138.0 233.50 L139.0 233.49 L140.0 233.49 L141.0 233.48 L142.0 233.47 L143.0 233.46 L144.0 233.46 L145.0 233.45 L146.0 233.44 L147.0 233.43 L148.0 233.43 L149.0 233.42 L150.0 233.41 L151.0 233.40 L152.0 233.40 L153.0 233.39 L154.0 233.38 L155.0 233.38 L156.0 233.37 L157.0 233.36 L158.0 233.36 L159.0 233.35 L160.0 233.34 L161.0 233.34 L162.0 233.33 L163.0 233.33 L164.0 233.32 L165.0 233.31 L166.0 233.31 L167.0 233.30 L168.0 233.30 L169.0 233.29 L170.0 233.29 L171.0 233.28 L172.0 233.28 L173.0 233.27 L174.0 233.27 L175.0 233.26 L176.0 233.26 L177.0 233.25 L178.0 233.25 L179.0 233.24 L180.0 233.24 L181.0 233.23 L182.0 233.23 L183.0 233.22 L184.0 233.22 L185.0 233.22 L186.0 233.21 L187.0 233.21 L188.0 233.21 L189.0 233.20 L190.0 233.20 L191.0 233.20 L192.0 233.19 L193.0 233.19 L194.0 233.19 L195.0 233.18 L196.0 233.18 L197.0 233.18 L198.0 233.18 L199.0 233.17 L200.0 233.17 L201.0 233.17 L202.0 233.17 L203.0 233.16 L204.0 233.16 L205.0 233.16 L206.0 233.15 L207.0 233.15 L208.0 233.15 L209.0 233.15 L210.0 233.14 L211.0 233.14 L212.0 233.14 L213.0 233.14 L214.0 233.14 L215.0 233.13 L216.0 233.13 L217.0 233.13 L218.0 233.13 L219.0 233.12 L220.0 233.12 L221.0 233.12 L222.0 233.12 L223.0 233.12 L224.0 233.11 L225.0 233.11 L226.0 233.11 L227.0 233.11 L228.0 233.11 L229.0 233.10 L230.0 233.10 L231.0 233.10 L232.0 233.10 L233.0 233.10 L234.0 233.09 L235.0 233.09 L236.0 233.09 L237.0 233.09 L238.0 233.09 L239.0 233.09 L240.0 233.08 L241.0 233.08 L242.0 233.08 L243.0 233.08 L244.0 233.08 L245.0 233.08 L246.0 233.07 L247.0 233.07 L248.0 233.07 L249.0 233.07 L250.0 233.07 L251.0 233.07 L252.0 233.06 L253.0 233.06 L254.0 233.06 L255.0 233.06 L256.0 233.06 L257.0 233.06 L258.0 233.05 L259.0 233.05 L260.0 233.05 L261.0 233.05 L262.0 233.05 L263.0 233.05 L264.0 233.04 L265.0 233.04 L266.0 233.04 L267.0 233.04 L268.0 233.04 L269.0 233.04 L270.0 233.03 L271.0 233.03 L272.0 233.03 L273.0 233.03 L274.0 233.03 L275.0 233.03 L276.0 233.02 L277.0 233.02 L278.0 233.02 L279.0 233.02 L280.0 233.02 L281.0 233.02 L282.0 233.01 L283.0 233.01 L284.0 233.01 L285.0 233.01 L286.0 233.01 L287.0 233.01 L288.0 233.00 L289.0 233.00 L290.0 233.00 L291.0 233.00 L292.0 233.00 L293.0 232.99 L294.0 232.99 L295.0 232.99 L296.0 232.99 L297.0 232.99 L298.0 232.99 L299.0 232.98 L300.0 232.98 L301.0 232.98 L302.0 232.98 L303.0 232.98 L304.0 232.97 L305.0 232.97 L306.0 232.97 L307.0 232.97 L308.0 232.97 L309.0 232.97 L310.0 232.96 L311.0 232.96 L312.0 232.96 L313.0 232.96 L314.0 232.96 L315.0 232.95 L316.0 232.95 L317.0 232.95 L318.0 232.95 L319.0 232.95 L320.0 232.95 L321.0 232.94 L322.0 232.94 L323.0 232.94 L324.0 232.94 L325.0 232.94 L326.0 232.93 L327.0 232.93 L328.0 232.93 L329.0 232.93 L330.0 232.93 L331.0 232.93 L332.0 232.92 L333.0 232.92 L334.0 232.92 L335.0 232.92 L336.0 232.92 L337.0 232.92 L338.0 232.91 L339.0 232.91 L340.0 232.91 L341.0 232.91 L342.0 232.91 L343.0 232.91 L344.0 232.90 L345.0 232.90 L346.0 232.90 L347.0 232.90 L348.0 232.90 L349.0 232.89 L350.0 232.89 L351.0 232.89 L352.0 232.89 L353.0 232.89 L354.0 232.89 L355.0 232.88 L356.0 232.88 L357.0 232.88 L358.0 232.88 L359.0 232.88 L360.0 232.88 L361.0 232.87 L362.0 232.87 L363.0 232.87 L364.0 232.87 L365.0 232.87 L366.0 232.87 L367.0 232.86 L368.0 232.86 L369.0 232.86 L370.0 232.86 L371.0 232.86 L372.0 232.86 L373.0 232.85 L374.0 232.85 L375.0 232.85 L376.0 232.85 L377.0 232.85 L378.0 232.85 L379.0 232.84 L380.0 232.84 L381.0 232.84 L382.0 232.84 L383.0 232.84 L384.0 232.84 L385.0 232.83 L386.0 232.83 L387.0 232.83 L388.0 232.83 L389.0 232.83 L390.0 232.83 L391.0 232.83 L392.0 232.82 L393.0 232.82 L394.0 232.82 L395.0 232.82 L396.0 232.82 L397.0 232.82 L398.0 232.81 L399.0 232.81 L400.0 232.81 L401.0 232.81 L402.0 232.81 L403.0 232.81 L404.0 232.80 L405.0 232.80 L406.0 232.80 L407.0 232.80 L407.0 240.00 L406.0 240.01 L405.0 240.03 L404.0 240.04 L403.0 240.06 L402.0 240.07 L401.0 240.09 L400.0 240.10 L399.0 240.12 L398.0 240.13 L397.0 240.15 L396.0 240.16 L395.0 240.18 L394.0 240.19 L393.0 240.21 L392.0 240.23 L391.0 240.24 L390.0 240.26 L389.0 240.27 L388.0 240.29 L387.0 240.30 L386.0 240.32 L385.0 240.34 L384.0 240.35 L383.0 240.37 L382.0 240.38 L381.0 240.40 L380.0 240.42 L379.0 240.43 L378.0 240.45 L377.0 240.46 L376.0 240.48 L375.0 240.50 L374.0 240.51 L373.0 240.53 L372.0 240.55 L371.0 240.56 L370.0 240.58 L369.0 240.60 L368.0 240.61 L367.0 240.63 L366.0 240.65 L365.0 240.66 L364.0 240.68 L363.0 240.70 L362.0 240.71 L361.0 240.73 L360.0 240.75 L359.0 240.77 L358.0 240.78 L357.0 240.80 L356.0 240.82 L355.0 240.84 L354.0 240.85 L353.0 240.87 L352.0 240.89 L351.0 240.90 L350.0 240.92 L349.0 240.94 L348.0 240.96 L347.0 240.98 L346.0 240.99 L345.0 241.01 L344.0 241.03 L343.0 241.05 L342.0 241.06 L341.0 241.08 L340.0 241.10 L339.0 241.12 L338.0 241.14 L337.0 241.15 L336.0 241.17 L335.0 241.19 L334.0 241.21 L333.0 241.23 L332.0 241.25 L331.0 241.26 L330.0 241.28 L329.0 241.30 L328.0 241.32 L327.0 241.34 L326.0 241.36 L325.0 241.38 L324.0 241.40 L323.0 241.41 L322.0 241.43 L321.0 241.45 L320.0 241.47 L319.0 241.49 L318.0 241.51 L317.0 241.53 L316.0 241.55 L315.0 241.57 L314.0 241.59 L313.0 241.61 L312.0 241.63 L311.0 241.65 L310.0 241.67 L309.0 241.69 L308.0 241.71 L307.0 241.73 L306.0 241.75 L305.0 241.77 L304.0 241.79 L303.0 241.81 L302.0 241.83 L301.0 241.85 L300.0 241.87 L299.0 241.89 L298.0 241.91 L297.0 241.93 L296.0 241.95 L295.0 241.97 L294.0 242.00 L293.0 242.02 L292.0 242.04 L291.0 242.06 L290.0 242.08 L289.0 242.10 L288.0 242.12 L287.0 242.15 L286.0 242.17 L285.0 242.19 L284.0 242.21 L283.0 242.23 L282.0 242.25 L281.0 242.27 L280.0 242.30 L279.0 242.32 L278.0 242.34 L277.0 242.36 L276.0 242.38 L275.0 242.41 L274.0 242.43 L273.0 242.45 L272.0 242.47 L271.0 242.50 L270.0 242.52 L269.0 242.54 L268.0 242.57 L267.0 242.59 L266.0 242.61 L265.0 242.64 L264.0 242.66 L263.0 242.69 L262.0 242.71 L261.0 242.74 L260.0 242.76 L259.0 242.79 L258.0 242.82 L257.0 242.84 L256.0 242.87 L255.0 242.90 L254.0 242.93 L253.0 242.96 L252.0 242.99 L251.0 243.02 L250.0 243.05 L249.0 243.09 L248.0 243.12 L247.0 243.16 L246.0 243.19 L245.0 243.23 L244.0 243.26 L243.0 243.30 L242.0 243.33 L241.0 243.37 L240.0 243.40 L239.0 243.43 L238.0 243.47 L237.0 243.50 L236.0 243.53 L235.0 243.57 L234.0 243.60 L233.0 243.64 L232.0 243.67 L231.0 243.70 L230.0 243.74 L229.0 243.77 L228.0 243.81 L227.0 243.84 L226.0 243.87 L225.0 243.91 L224.0 243.94 L223.0 243.98 L222.0 244.01 L221.0 244.05 L220.0 244.08 L219.0 244.11 L218.0 244.15 L217.0 244.18 L216.0 244.22 L215.0 244.25 L214.0 244.29 L213.0 244.32 L212.0 244.36 L211.0 244.40 L210.0 244.43 L209.0 244.47 L208.0 244.50 L207.0 244.54 L206.0 244.57 L205.0 244.61 L204.0 244.65 L203.0 244.68 L202.0 244.72 L201.0 244.75 L200.0 244.79 L199.0 244.83 L198.0 244.86 L197.0 244.90 L196.0 244.94 L195.0 244.98 L194.0 245.01 L193.0 245.05 L192.0 245.09 L191.0 245.13 L190.0 245.17 L189.0 245.20 L188.0 245.24 L187.0 245.28 L186.0 245.32 L185.0 245.36 L184.0 245.40 L183.0 245.44 L182.0 245.48 L181.0 245.52 L180.0 245.56 L179.0 245.60 L178.0 245.64 L177.0 245.68 L176.0 245.72 L175.0 245.76 L174.0 245.80 L173.0 245.85 L172.0 245.89 L171.0 245.93 L170.0 245.97 L169.0 246.01 L168.0 246.06 L167.0 246.10 L166.0 246.14 L165.0 246.18 L164.0 246.23 L163.0 246.27 L162.0 246.31 L161.0 246.36 L160.0 246.40 L159.0 246.45 L158.0 246.50 L157.0 246.54 L156.0 246.59 L155.0 246.64 L154.0 246.68 L153.0 246.73 L152.0 246.78 L151.0 246.83 L150.0 246.87 L149.0 246.92 L148.0 246.96 L147.0 247.01 L146.0 247.05 L145.0 247.10 L144.0 247.14 L143.0 247.18 L142.0 247.22 L141.0 247.26 L140.0 247.30 L139.0 247.34 L138.0 247.37 L137.0 247.41 L136.0 247.44 L135.0 247.47 L134.0 247.51 L133.0 247.54 L132.0 247.57 L131.0 247.60 L130.0 247.63 L129.0 247.66 L128.0 247.70 L127.0 247.73 L126.0 247.76 L125.0 247.79 L124.0 247.83 L123.0 247.86 L122.0 247.90 L121.0 247.94 L120.0 247.98 L119.0 248.01 L118.0 248.05 L117.0 248.09 L116.0 248.13 L115.0 248.17 L114.0 248.21 L113.0 248.25 L112.0 248.29 L111.0 248.33 L110.0 248.37 L109.0 248.42 L108.0 248.46 L107.0 248.51 L106.0 248.55 L105.0 248.60 L104.0 248.65 L103.0 248.70 L102.0 248.75 L101.0 248.80 L100.0 248.85 L99.0 248.91 L98.0 248.97 L97.0 249.03 L96.0 249.10 L95.0 249.16 L94.0 249.23 L93.0 249.30 L92.0 249.37 L91.0 249.43 L90.0 249.50 L89.0 249.57 L88.0 249.64 L87.0 249.72 L86.0 249.80 L85.0 249.87 L84.0 249.94 L83.0 250.01 L82.0 250.07 L81.0 250.11 L80.0 250.16 L79.0 250.20 L78.0 250.24 L77.0 250.27 L76.0 250.31 L75.0 250.34 L74.0 250.37 L73.0 250.40 L72.0 250.43 L71.0 250.46 L70.0 250.49 L69.0 250.51 L68.0 250.54 L67.0 250.56 L66.0 250.58 L65.0 250.60 L64.0 250.62 L63.0 250.64 L62.0 250.65 L61.0 250.67 L60.0 250.69 L59.0 250.70 L58.0 250.71 L57.0 250.73 L56.0 250.74 L55.0 250.75 L54.0 250.76 L53.0 250.78 L52.0 250.79 L51.0 250.80 L50.0 250.81 L49.0 250.83 L48.0 250.84 L47.0 250.86 L46.0 250.87 L45.0 250.89 L44.0 250.91 L43.0 250.93 L42.0 250.95 L41.0 250.98 L40.0 251.00 Z" fill="#ffd9d9" stroke="none"/>
<path d="M40.0 -20.00 L41.0 -18.73 L42.0 -17.48 L43.0 -16.23 L44.0 -15.00 L45.0 -13.78 L46.0 -12.56 L47.0 -11.36 L48.0 -10.16 L49.0 -8.98 L50.0 -7.80 L51.0 -6.63 L52.0 -5.48 L53.0 -4.33 L54.0 -3.19 L55.0 -2.05 L56.0 -0.93 L57.0 0.18 L58.0 1.29 L59.0 2.39 L60.0 3.48 L61.0 4.57 L62.0 5.64 L63.0 6.71 L64.0 7.77 L65.0 8.83 L66.0 9.87 L67.0 10.92 L68.0 11.95 L69.0 12.98 L70.0 14.00 L71.0 15.01 L72.0 16.00 L73.0 16.98 L74.0 17.94 L75.0 18.89 L76.0 19.82 L77.0 20.75 L78.0 21.67 L79.0 22.59 L80.0 23.50 L81.0 24.41 L82.0 25.32 L83.0 26.23 L84.0 27.14 L85.0 28.04 L86.0 28.93 L87.0 29.82 L88.0 30.70 L89.0 31.58 L90.0 32.43 L91.0 33.28 L92.0 34.11 L93.0 34.93 L94.0 35.72 L95.0 36.50 L96.0 37.26 L97.0 38.02 L98.0 38.76 L99.0 39.49 L100.0 40.21 L101.0 40.92 L102.0 41.62 L103.0 42.31 L104.0 42.99 L105.0 43.66 L106.0 44.31 L107.0 44.95 L108.0 45.58 L109.0 46.20 L110.0 46.80 L111.0 47.40 L112.0 48.00 L113.0 48.59 L114.0 49.18 L115.0 49.76 L116.0 50.34 L117.0 50.91 L118.0 51.48 L119.0 52.05 L120.0 52.60 L121.0 53.16 L122.0 53.70 L123.0 54.25 L124.0 54.78 L125.0 55.31 L126.0 55.83 L127.0 56.35 L128.0 56.86 L129.0 57.36 L130.0 57.86 L131.0 58.35 L132.0 58.83 L133.0 59.30 L134.0 59.77 L135.0 60.23 L136.0 60.68 L137.0 61.12 L138.0 61.56 L139.0 61.98 L140.0 62.40 L141.0 62.81 L142.0 63.21 L143.0 63.60 L144.0 63.98 L145.0 64.36 L146.0 64.73 L147.0 65.09 L148.0 65.45 L149.0 65.80 L150.0 66.15 L151.0 66.49 L152.0 66.83 L153.0 67.16 L154.0 67.49 L155.0 67.82 L156.0 68.14 L157.0 68.47 L158.0 68.79 L159.0 69.11 L160.0 69.43 L161.0 69.75 L162.0 70.07 L163.0 70.39 L164.0 70.71 L165.0 71.03 L166.0 71.35 L167.0 71.67 L168.0 72.00 L169.0 72.32 L170.0 72.64 L171.0 72.96 L172.0 73.28 L173.0 73.60 L174.0 73.92 L175.0 74.23 L176.0 74.54 L177.0 74.85 L178.0 75.16 L179.0 75.47 L180.0 75.77 L181.0 76.06 L182.0 76.36 L183.0 76.65 L184.0 76.93 L185.0 77.21 L186.0 77.48 L187.0 77.75 L188.0 78.02 L189.0 78.27 L190.0 78.53 L191.0 78.78 L192.0 79.03 L193.0 79.27 L194.0 79.51 L195.0 79.75 L196.0 79.99 L197.0 80.22 L198.0 80.45 L199.0 80.68 L200.0 80.90 L201.0 81.12 L202.0 81.34 L203.0 81.56 L204.0 81.77 L205.0 81.98 L206.0 82.19 L207.0 82.40 L208.0 82.60 L209.0 82.80 L210.0 83.00 L211.0 83.19 L212.0 83.38 L213.0 83.57 L214.0 83.76 L215.0 83.94 L216.0 84.12 L217.0 84.29 L218.0 84.47 L219.0 84.64 L220.0 84.80 L221.0 84.97 L222.0 85.13 L223.0 85.29 L224.0 85.45 L225.0 85.61 L226.0 85.77 L227.0 85.92 L228.0 86.08 L229.0 86.23 L230.0 86.38 L231.0 86.53 L232.0 86.68 L233.0 86.84 L234.0 86.99 L235.0 87.14 L236.0 87.29 L237.0 87.44 L238.0 87.59 L239.0 87.75 L240.0 87.90 L241.0 88.06 L242.0 88.21 L243.0 88.37 L244.0 88.52 L245.0 88.68 L246.0 88.83 L247.0 88.99 L248.0 89.15 L249.0 89.30 L250.0 89.46 L251.0 89.61 L252.0 89.77 L253.0 89.92 L254.0 90.07 L255.0 90.22 L256.0 90.37 L257.0 90.52 L258.0 90.67 L259.0 90.81 L260.0 90.96 L261.0 91.10 L262.0 91.24 L263.0 91.38 L264.0 91.52 L265.0 91.65 L266.0 91.79 L267.0 91.92 L268.0 92.05 L269.0 92.18 L270.0 92.31 L271.0 92.44 L272.0 92.56 L273.0 92.69 L274.0 92.81 L275.0 92.93 L276.0 93.06 L277.0 93.18 L278.0 93.30 L279.0 93.42 L280.0 93.54 L281.0 93.65 L282.0 93.77 L283.0 93.89 L284.0 94.01 L285.0 94.12 L286.0 94.24 L287.0 94.36 L288.0 94.47 L289.0 94.59 L290.0 94.70 L291.0 94.82 L292.0 94.93 L293.0 95.05 L294.0 95.16 L295.0 95.27 L296.0 95.38 L297.0 95.50 L298.0 95.61 L299.0 95.72 L300.0 95.83 L301.0 95.94 L302.0 96.05 L303.0 96.15 L304.0 96.26 L305.0 96.37 L306.0 96.48 L307.0 96.59 L308.0 96.69 L309.0 96.80 L310.0 96.91 L311.0 97.01 L312.0 97.12 L313.0 97.23 L314.0 97.33 L315.0 97.44 L316.0 97.54 L317.0 97.65 L318.0 97.76 L319.0 97.86 L320.0 97.97 L321.0 98.07 L322.0 98.18 L323.0 98.28 L324.0 98.38 L325.0 98.49 L326.0 98.59 L327.0 98.69 L328.0 98.80 L329.0 98.90 L330.0 99.00 L331.0 99.10 L332.0 99.21 L333.0 99.31 L334.0 99.41 L335.0 99.51 L336.0 99.61 L337.0 99.71 L338.0 99.80 L339.0 99.90 L340.0 100.00 L341.0 100.10 L342.0 100.19 L343.0 100.29 L344.0 100.39 L345.0 100.48 L346.0 100.58 L347.0 100.67 L348.0 100.77 L349.0 100.86 L350.0 100.95 L351.0 101.05 L352.0 101.14 L353.0 101.23 L354.0 101.32 L355.0 101.40 L356.0 101.49 L357.0 101.58 L358.0 101.66 L359.0 101.75 L360.0 101.84 L361.0 101.92 L362.0 102.01 L363.0 102.09 L364.0 102.18 L365.0 102.26 L366.0 102.35 L367.0 102.43 L368.0 102.51 L369.0 102.60 L370.0 102.68 L371.0 102.76 L372.0 102.85 L373.0 102.93 L374.0 103.01 L375.0 103.09 L376.0 103.17 L377.0 103.26 L378.0 103.34 L379.0 103.42 L380.0 103.50 L381.0 103.58 L382.0 103.66 L383.0 103.74 L384.0 103.81 L385.0 103.89 L386.0 103.97 L387.0 104.05 L388.0 104.12 L389.0 104.20 L390.0 104.28 L391.0 104.35 L392.0 104.43 L393.0 104.50 L394.0 104.58 L395.0 104.65 L396.0 104.73 L397.0 104.80 L398.0 104.87 L399.0 104.94 L400.0 105.01 L401.0 105.09 L402.0 105.16 L403.0 105.23 L404.0 105.29 L405.0 105.36 L406.0 105.43 L407.0 105.50" stroke="#2222ee" stroke-width="0.95"/>
<path d="M40.0 201.30 L41.0 201.21 L42.0 201.16 L43.0 201.12 L44.0 201.10 L45.0 201.11 L46.0 201.14 L47.0 201.21 L48.0 201.31 L49.0 201.41 L50.0 201.52 L51.0 201.68 L52.0 201.89 L53.0 202.15 L54.0 202.44 L55.0 202.78 L56.0 203.14 L57.0 203.52 L58.0 203.92 L59.0 204.32 L60.0 204.73 L61.0 205.13 L62.0 205.51 L63.0 205.88 L64.0 206.21 L65.0 206.52 L66.0 206.82 L67.0 207.11 L68.0 207.40 L69.0 207.69 L70.0 207.97 L71.0 208.25 L72.0 208.52 L73.0 208.79 L74.0 209.05 L75.0 209.32 L76.0 209.57 L77.0 209.83 L78.0 210.08 L79.0 210.33 L80.0 210.58 L81.0 210.82 L82.0 211.07 L83.0 211.31 L84.0 211.54 L85.0 211.77 L86.0 211.99 L87.0 212.20 L88.0 212.39 L89.0 212.58 L90.0 212.76 L91.0 212.94 L92.0 213.11 L93.0 213.27 L94.0 213.44 L95.0 213.60 L96.0 213.76 L97.0 213.91 L98.0 214.06 L99.0 214.21 L100.0 214.36 L101.0 214.50 L102.0 214.64 L103.0 214.77 L104.0 214.91 L105.0 215.04 L106.0 215.17 L107.0 215.30 L108.0 215.42 L109.0 215.55 L110.0 215.67 L111.0 215.79 L112.0 215.90 L113.0 216.02 L114.0 216.13 L115.0 216.25 L116.0 216.36 L117.0 216.47 L118.0 216.57 L119.0 216.68 L120.0 216.78 L121.0 216.89 L122.0 216.99 L123.0 217.09 L124.0 217.18 L125.0 217.28 L126.0 217.37 L127.0 217.47 L128.0 217.56 L129.0 217.65 L130.0 217.74 L131.0 217.83 L132.0 217.92 L133.0 218.01 L134.0 218.09 L135.0 218.18 L136.0 218.27 L137.0 218.35 L138.0 218.43 L139.0 218.52 L140.0 218.60 L141.0 218.68 L142.0 218.76 L143.0 218.84 L144.0 218.93 L145.0 219.01 L146.0 219.08 L147.0 219.16 L148.0 219.24 L149.0 219.32 L150.0 219.39 L151.0 219.47 L152.0 219.54 L153.0 219.62 L154.0 219.69 L155.0 219.76 L156.0 219.83 L157.0 219.90 L158.0 219.97 L159.0 220.04 L160.0 220.11 L161.0 220.17 L162.0 220.24 L163.0 220.30 L164.0 220.36 L165.0 220.42 L166.0 220.49 L167.0 220.55 L168.0 220.60 L169.0 220.66 L170.0 220.72 L171.0 220.78 L172.0 220.83 L173.0 220.89 L174.0 220.94 L175.0 221.00 L176.0 221.05 L177.0 221.11 L178.0 221.16 L179.0 221.21 L180.0 221.26 L181.0 221.31 L182.0 221.36 L183.0 221.41 L184.0 221.46 L185.0 221.51 L186.0 221.56 L187.0 221.60 L188.0 221.65 L189.0 221.70 L190.0 221.74 L191.0 221.79 L192.0 221.83 L193.0 221.87 L194.0 221.92 L195.0 221.96 L196.0 222.00 L197.0 222.04 L198.0 222.08 L199.0 222.12 L200.0 222.16 L201.0 222.20 L202.0 222.24 L203.0 222.28 L204.0 222.32 L205.0 222.35 L206.0 222.39 L207.0 222.43 L208.0 222.47 L209.0 222.51 L210.0 222.55 L211.0 222.59 L212.0 222.63 L213.0 222.67 L214.0 222.71 L215.0 222.75 L216.0 222.80 L217.0 222.84 L218.0 222.88 L219.0 222.93 L220.0 222.97 L221.0 223.02 L222.0 223.07 L223.0 223.11 L224.0 223.16 L225.0 223.20 L226.0 223.25 L227.0 223.29 L228.0 223.34 L229.0 223.38 L230.0 223.43 L231.0 223.47 L232.0 223.51 L233.0 223.55 L234.0 223.59 L235.0 223.63 L236.0 223.67 L237.0 223.70 L238.0 223.74 L239.0 223.77 L240.0 223.80 L241.0 223.83 L242.0 223.86 L243.0 223.89 L244.0 223.92 L245.0 223.94 L246.0 223.97 L247.0 224.00 L248.0 224.03 L249.0 224.05 L250.0 224.08 L251.0 224.10 L252.0 224.13 L253.0 224.15 L254.0 224.18 L255.0 224.20 L256.0 224.23 L257.0 224.25 L258.0 224.27 L259.0 224.30 L260.0 224.32 L261.0 224.34 L262.0 224.36 L263.0 224.39 L264.0 224.41 L265.0 224.43 L266.0 224.45 L267.0 224.47 L268.0 224.49 L269.0 224.51 L270.0 224.53 L271.0 224.55 L272.0 224.57 L273.0 224.59 L274.0 224.61 L275.0 224.63 L276.0 224.65 L277.0 224.67 L278.0 224.69 L279.0 224.71 L280.0 224.73 L281.0 224.75 L282.0 224.77 L283.0 224.79 L284.0 224.80 L285.0 224.82 L286.0 224.84 L287.0 224.86 L288.0 224.88 L289.0 224.90 L290.0 224.92 L291.0 224.93 L292.0 224.95 L293.0 224.97 L294.0 224.99 L295.0 225.00 L296.0 225.02 L297.0 225.04 L298.0 225.05 L299.0 225.07 L300.0 225.08 L301.0 225.10 L302.0 225.12 L303.0 225.13 L304.0 225.15 L305.0 225.17 L306.0 225.18 L307.0 225.20 L308.0 225.22 L309.0 225.24 L310.0 225.25 L311.0 225.27 L312.0 225.29 L313.0 225.31 L314.0 225.33 L315.0 225.35 L316.0 225.36 L317.0 225.38 L318.0 225.40 L319.0 225.42 L320.0 225.44 L321.0 225.46 L322.0 225.48 L323.0 225.50 L324.0 225.52 L325.0 225.54 L326.0 225.55 L327.0 225.57 L328.0 225.59 L329.0 225.61 L330.0 225.63 L331.0 225.65 L332.0 225.66 L333.0 225.68 L334.0 225.70 L335.0 225.72 L336.0 225.73 L337.0 225.75 L338.0 225.77 L339.0 225.78 L340.0 225.80 L341.0 225.82 L342.0 225.83 L343.0 225.85 L344.0 225.86 L345.0 225.88 L346.0 225.89 L347.0 225.91 L348.0 225.92 L349.0 225.94 L350.0 225.95 L351.0 225.97 L352.0 225.99 L353.0 226.00 L354.0 226.02 L355.0 226.03 L356.0 226.05 L357.0 226.06 L358.0 226.08 L359.0 226.09 L360.0 226.10 L361.0 226.12 L362.0 226.13 L363.0 226.15 L364.0 226.16 L365.0 226.18 L366.0 226.19 L367.0 226.21 L368.0 226.22 L369.0 226.23 L370.0 226.25 L371.0 226.26 L372.0 226.28 L373.0 226.29 L374.0 226.30 L375.0 226.32 L376.0 226.33 L377.0 226.34 L378.0 226.36 L379.0 226.37 L380.0 226.38 L381.0 226.40 L382.0 226.41 L383.0 226.42 L384.0 226.43 L385.0 226.45 L386.0 226.46 L387.0 226.47 L388.0 226.48 L389.0 226.50 L390.0 226.51 L391.0 226.52 L392.0 226.53 L393.0 226.55 L394.0 226.56 L395.0 226.57 L396.0 226.58 L397.0 226.59 L398.0 226.60 L399.0 226.61 L400.0 226.63 L401.0 226.64 L402.0 226.65 L403.0 226.66 L404.0 226.67 L405.0 226.68 L406.0 226.69 L407.0 226.70" stroke="#2222ee" stroke-width="0.95"/>
<path d="M40.0 53.50 L41.0 55.12 L42.0 56.70 L43.0 58.24 L44.0 59.75 L45.0 61.27 L46.0 62.79 L47.0 64.14 L48.0 65.21 L49.0 66.11 L50.0 66.91 L51.0 67.67 L52.0 68.46 L53.0 69.26 L54.0 70.05 L55.0 70.81 L56.0 71.56 L57.0 72.27 L58.0 72.97 L59.0 73.64 L60.0 74.30 L61.0 74.94 L62.0 75.55 L63.0 76.16 L64.0 76.74 L65.0 77.30 L66.0 77.85 L67.0 78.37 L68.0 78.87 L69.0 79.35 L70.0 79.83 L71.0 80.30 L72.0 80.77 L73.0 81.23 L74.0 81.69 L75.0 82.13 L76.0 82.56 L77.0 82.96 L78.0 83.35 L79.0 83.73 L80.0 84.10 L81.0 84.47 L82.0 84.85 L83.0 85.24 L84.0 85.63 L85.0 86.01 L86.0 86.38 L87.0 86.73 L88.0 87.07 L89.0 87.40 L90.0 87.71 L91.0 88.02 L92.0 88.33 L93.0 88.64 L94.0 88.94 L95.0 89.24 L96.0 89.55 L97.0 89.85 L98.0 90.15 L99.0 90.45 L100.0 90.74 L101.0 91.04 L102.0 91.33 L103.0 91.62 L104.0 91.91 L105.0 92.19 L106.0 92.47 L107.0 92.75 L108.0 93.02 L109.0 93.29 L110.0 93.56 L111.0 93.82 L112.0 94.08 L113.0 94.33 L114.0 94.57 L115.0 94.82 L116.0 95.06 L117.0 95.30 L118.0 95.53 L119.0 95.77 L120.0 96.00 L121.0 96.23 L122.0 96.46 L123.0 96.68 L124.0 96.90 L125.0 97.12 L126.0 97.34 L127.0 97.55 L128.0 97.76 L129.0 97.97 L130.0 98.17 L131.0 98.37 L132.0 98.57 L133.0 98.76 L134.0 98.95 L135.0 99.14 L136.0 99.32 L137.0 99.50 L138.0 99.67 L139.0 99.85 L140.0 100.01 L141.0 100.18 L142.0 100.34 L143.0 100.50 L144.0 100.66 L145.0 100.81 L146.0 100.96 L147.0 101.11 L148.0 101.26 L149.0 101.40 L150.0 101.55 L151.0 101.69 L152.0 101.83 L153.0 101.98 L154.0 102.12 L155.0 102.26 L156.0 102.39 L157.0 102.53 L158.0 102.67 L159.0 102.81 L160.0 102.95 L161.0 103.09 L162.0 103.23 L163.0 103.37 L164.0 103.51 L165.0 103.66 L166.0 103.80 L167.0 103.95 L168.0 104.09 L169.0 104.23 L170.0 104.38 L171.0 104.52 L172.0 104.67 L173.0 104.81 L174.0 104.96 L175.0 105.10 L176.0 105.24 L177.0 105.38 L178.0 105.53 L179.0 105.67 L180.0 105.81 L181.0 105.94 L182.0 106.08 L183.0 106.21 L184.0 106.35 L185.0 106.48 L186.0 106.61 L187.0 106.74 L188.0 106.86 L189.0 106.99 L190.0 107.11 L191.0 107.23 L192.0 107.35 L193.0 107.47 L194.0 107.59 L195.0 107.70 L196.0 107.82 L197.0 107.93 L198.0 108.05 L199.0 108.16 L200.0 108.27 L201.0 108.38 L202.0 108.49 L203.0 108.60 L204.0 108.71 L205.0 108.82 L206.0 108.92 L207.0 109.03 L208.0 109.13 L209.0 109.23 L210.0 109.33 L211.0 109.43 L212.0 109.53 L213.0 109.63 L214.0 109.73 L215.0 109.83 L216.0 109.92 L217.0 110.02 L218.0 110.11 L219.0 110.20 L220.0 110.30 L221.0 110.39 L222.0 110.48 L223.0 110.57 L224.0 110.66 L225.0 110.75 L226.0 110.84 L227.0 110.92 L228.0 111.01 L229.0 111.09 L230.0 111.18 L231.0 111.26 L232.0 111.35 L233.0 111.43 L234.0 111.51 L235.0 111.60 L236.0 111.68 L237.0 111.76 L238.0 111.84 L239.0 111.92 L240.0 112.00 L241.0 112.08 L242.0 112.16 L243.0 112.24 L244.0 112.32 L245.0 112.40 L246.0 112.47 L247.0 112.55 L248.0 112.63 L249.0 112.71 L250.0 112.79 L251.0 112.86 L252.0 112.94 L253.0 113.02 L254.0 113.10 L255.0 113.17 L256.0 113.25 L257.0 113.32 L258.0 113.40 L259.0 113.47 L260.0 113.55 L261.0 113.62 L262.0 113.70 L263.0 113.77 L264.0 113.84 L265.0 113.92 L266.0 113.99 L267.0 114.06 L268.0 114.13 L269.0 114.20 L270.0 114.27 L271.0 114.34 L272.0 114.41 L273.0 114.48 L274.0 114.55 L275.0 114.62 L276.0 114.68 L277.0 114.75 L278.0 114.82 L279.0 114.88 L280.0 114.95 L281.0 115.01 L282.0 115.07 L283.0 115.14 L284.0 115.20 L285.0 115.26 L286.0 115.32 L287.0 115.38 L288.0 115.44 L289.0 115.49 L290.0 115.55 L291.0 115.61 L292.0 115.66 L293.0 115.71 L294.0 115.77 L295.0 115.82 L296.0 115.87 L297.0 115.92 L298.0 115.97 L299.0 116.01 L300.0 116.06 L301.0 116.11 L302.0 116.16 L303.0 116.21 L304.0 116.25 L305.0 116.30 L306.0 116.35 L307.0 116.40 L308.0 116.45 L309.0 116.50 L310.0 116.55 L311.0 116.60 L312.0 116.65 L313.0 116.70 L314.0 116.74 L315.0 116.79 L316.0 116.84 L317.0 116.89 L318.0 116.94 L319.0 116.99 L320.0 117.04 L321.0 117.09 L322.0 117.14 L323.0 117.19 L324.0 117.23 L325.0 117.28 L326.0 117.33 L327.0 117.38 L328.0 117.43 L329.0 117.47 L330.0 117.52 L331.0 117.57 L332.0 117.61 L333.0 117.66 L334.0 117.71 L335.0 117.75 L336.0 117.80 L337.0 117.84 L338.0 117.89 L339.0 117.93 L340.0 117.98 L341.0 118.02 L342.0 118.06 L343.0 118.11 L344.0 118.15 L345.0 118.20 L346.0 118.24 L347.0 118.28 L348.0 118.33 L349.0 118.37 L350.0 118.42 L351.0 118.46 L352.0 118.50 L353.0 118.55 L354.0 118.59 L355.0 118.63 L356.0 118.67 L357.0 118.72 L358.0 118.76 L359.0 118.80 L360.0 118.85 L361.0 118.89 L362.0 118.93 L363.0 118.97 L364.0 119.01 L365.0 119.06 L366.0 119.10 L367.0 119.14 L368.0 119.18 L369.0 119.22 L370.0 119.27 L371.0 119.31 L372.0 119.35 L373.0 119.39 L374.0 119.43 L375.0 119.47 L376.0 119.51 L377.0 119.55 L378.0 119.59 L379.0 119.63 L380.0 119.67 L381.0 119.71 L382.0 119.75 L383.0 119.79 L384.0 119.83 L385.0 119.87 L386.0 119.91 L387.0 119.95 L388.0 119.99 L389.0 120.03 L390.0 120.07 L391.0 120.10 L392.0 120.14 L393.0 120.18 L394.0 120.22 L395.0 120.26 L396.0 120.30 L397.0 120.33 L398.0 120.37 L399.0 120.41 L400.0 120.44 L401.0 120.48 L402.0 120.52 L403.0 120.56 L404.0 120.59 L405.0 120.63 L406.0 120.66 L407.0 120.70" stroke="#2222ee" stroke-width="1.2" stroke-dasharray="1.5 4.05"/>
<path d="M40.0 79.50 L41.0 80.97 L42.0 82.39 L43.0 83.72 L44.0 84.96 L45.0 86.16 L46.0 87.32 L47.0 88.43 L48.0 89.49 L49.0 90.46 L50.0 91.35 L51.0 92.15 L52.0 92.90 L53.0 93.59 L54.0 94.25 L55.0 94.87 L56.0 95.46 L57.0 96.02 L58.0 96.56 L59.0 97.08 L60.0 97.58 L61.0 98.05 L62.0 98.50 L63.0 98.94 L64.0 99.36 L65.0 99.76 L66.0 100.15 L67.0 100.53 L68.0 100.90 L69.0 101.25 L70.0 101.60 L71.0 101.93 L72.0 102.24 L73.0 102.54 L74.0 102.83 L75.0 103.10 L76.0 103.36 L77.0 103.60 L78.0 103.84 L79.0 104.07 L80.0 104.30 L81.0 104.51 L82.0 104.73 L83.0 104.94 L84.0 105.15 L85.0 105.35 L86.0 105.54 L87.0 105.74 L88.0 105.92 L89.0 106.11 L90.0 106.30 L91.0 106.49 L92.0 106.68 L93.0 106.87 L94.0 107.06 L95.0 107.26 L96.0 107.45 L97.0 107.64 L98.0 107.82 L99.0 108.00 L100.0 108.17 L101.0 108.34 L102.0 108.51 L103.0 108.68 L104.0 108.84 L105.0 109.00 L106.0 109.16 L107.0 109.32 L108.0 109.47 L109.0 109.63 L110.0 109.77 L111.0 109.92 L112.0 110.06 L113.0 110.20 L114.0 110.34 L115.0 110.47 L116.0 110.61 L117.0 110.73 L118.0 110.86 L119.0 110.98 L120.0 111.11 L121.0 111.23 L122.0 111.34 L123.0 111.46 L124.0 111.58 L125.0 111.69 L126.0 111.81 L127.0 111.92 L128.0 112.03 L129.0 112.14 L130.0 112.26 L131.0 112.37 L132.0 112.48 L133.0 112.59 L134.0 112.70 L135.0 112.82 L136.0 112.93 L137.0 113.05 L138.0 113.16 L139.0 113.28 L140.0 113.40 L141.0 113.53 L142.0 113.65 L143.0 113.77 L144.0 113.90 L145.0 114.02 L146.0 114.15 L147.0 114.28 L148.0 114.41 L149.0 114.53 L150.0 114.66 L151.0 114.78 L152.0 114.91 L153.0 115.03 L154.0 115.15 L155.0 115.28 L156.0 115.39 L157.0 115.51 L158.0 115.62 L159.0 115.74 L160.0 115.84 L161.0 115.95 L162.0 116.05 L163.0 116.15 L164.0 116.25 L165.0 116.34 L166.0 116.42 L167.0 116.51 L168.0 116.60 L169.0 116.68 L170.0 116.76 L171.0 116.84 L172.0 116.92 L173.0 117.00 L174.0 117.07 L175.0 117.15 L176.0 117.22 L177.0 117.29 L178.0 117.36 L179.0 117.43 L180.0 117.50 L181.0 117.57 L182.0 117.64 L183.0 117.70 L184.0 117.77 L185.0 117.83 L186.0 117.90 L187.0 117.96 L188.0 118.03 L189.0 118.09 L190.0 118.16 L191.0 118.22 L192.0 118.28 L193.0 118.34 L194.0 118.40 L195.0 118.46 L196.0 118.52 L197.0 118.58 L198.0 118.64 L199.0 118.69 L200.0 118.75 L201.0 118.81 L202.0 118.86 L203.0 118.92 L204.0 118.97 L205.0 119.03 L206.0 119.08 L207.0 119.14 L208.0 119.19 L209.0 119.24 L210.0 119.30 L211.0 119.35 L212.0 119.41 L213.0 119.46 L214.0 119.52 L215.0 119.57 L216.0 119.63 L217.0 119.68 L218.0 119.74 L219.0 119.79 L220.0 119.85 L221.0 119.90 L222.0 119.96 L223.0 120.01 L224.0 120.07 L225.0 120.12 L226.0 120.18 L227.0 120.23 L228.0 120.28 L229.0 120.34 L230.0 120.39 L231.0 120.44 L232.0 120.49 L233.0 120.54 L234.0 120.59 L235.0 120.64 L236.0 120.69 L237.0 120.74 L238.0 120.79 L239.0 120.83 L240.0 120.88 L241.0 120.92 L242.0 120.97 L243.0 121.01 L244.0 121.05 L245.0 121.09 L246.0 121.14 L247.0 121.18 L248.0 121.22 L249.0 121.26 L250.0 121.30 L251.0 121.34 L252.0 121.38 L253.0 121.42 L254.0 121.46 L255.0 121.50 L256.0 121.53 L257.0 121.57 L258.0 121.61 L259.0 121.65 L260.0 121.69 L261.0 121.72 L262.0 121.76 L263.0 121.80 L264.0 121.83 L265.0 121.87 L266.0 121.91 L267.0 121.94 L268.0 121.98 L269.0 122.02 L270.0 122.06 L271.0 122.09 L272.0 122.13 L273.0 122.17 L274.0 122.20 L275.0 122.24 L276.0 122.28 L277.0 122.32 L278.0 122.36 L279.0 122.39 L280.0 122.43 L281.0 122.47 L282.0 122.51 L283.0 122.55 L284.0 122.59 L285.0 122.63 L286.0 122.67 L287.0 122.71 L288.0 122.75 L289.0 122.80 L290.0 122.84 L291.0 122.88 L292.0 122.93 L293.0 122.97 L294.0 123.02 L295.0 123.07 L296.0 123.12 L297.0 123.16 L298.0 123.21 L299.0 123.26 L300.0 123.31 L301.0 123.35 L302.0 123.40 L303.0 123.44 L304.0 123.48 L305.0 123.52 L306.0 123.56 L307.0 123.60 L308.0 123.64 L309.0 123.67 L310.0 123.70 L311.0 123.74 L312.0 123.77 L313.0 123.80 L314.0 123.83 L315.0 123.86 L316.0 123.89 L317.0 123.91 L318.0 123.94 L319.0 123.97 L320.0 124.00 L321.0 124.02 L322.0 124.05 L323.0 124.08 L324.0 124.10 L325.0 124.13 L326.0 124.16 L327.0 124.18 L328.0 124.21 L329.0 124.23 L330.0 124.26 L331.0 124.29 L332.0 124.32 L333.0 124.34 L334.0 124.37 L335.0 124.40 L336.0 124.43 L337.0 124.46 L338.0 124.49 L339.0 124.52 L340.0 124.55 L341.0 124.58 L342.0 124.62 L343.0 124.65 L344.0 124.68 L345.0 124.71 L346.0 124.74 L347.0 124.77 L348.0 124.81 L349.0 124.84 L350.0 124.87 L351.0 124.90 L352.0 124.94 L353.0 124.97 L354.0 125.00 L355.0 125.03 L356.0 125.07 L357.0 125.10 L358.0 125.13 L359.0 125.17 L360.0 125.20 L361.0 125.23 L362.0 125.27 L363.0 125.30 L364.0 125.33 L365.0 125.37 L366.0 125.40 L367.0 125.44 L368.0 125.47 L369.0 125.50 L370.0 125.54 L371.0 125.57 L372.0 125.61 L373.0 125.64 L374.0 125.68 L375.0 125.71 L376.0 125.75 L377.0 125.78 L378.0 125.82 L379.0 125.85 L380.0 125.89 L381.0 125.93 L382.0 125.96 L383.0 126.00 L384.0 126.03 L385.0 126.07 L386.0 126.11 L387.0 126.14 L388.0 126.18 L389.0 126.22 L390.0 126.25 L391.0 126.29 L392.0 126.33 L393.0 126.36 L394.0 126.40 L395.0 126.44 L396.0 126.48 L397.0 126.51 L398.0 126.55 L399.0 126.59 L400.0 126.63 L401.0 126.67 L402.0 126.71 L403.0 126.74 L404.0 126.78 L405.0 126.82 L406.0 126.86 L407.0 126.90" stroke="#2222ee" stroke-width="1.0" stroke-dasharray="5.4 3.8"/>
<path d="M40.0 90.50 L41.0 91.60 L42.0 92.69 L43.0 93.75 L44.0 94.79 L45.0 95.81 L46.0 96.85 L47.0 97.91 L48.0 98.95 L49.0 99.95 L50.0 100.89 L51.0 101.75 L52.0 102.50 L53.0 103.14 L54.0 103.75 L55.0 104.31 L56.0 104.85 L57.0 105.36 L58.0 105.84 L59.0 106.30 L60.0 106.73 L61.0 107.14 L62.0 107.54 L63.0 107.92 L64.0 108.29 L65.0 108.64 L66.0 108.98 L67.0 109.31 L68.0 109.63 L69.0 109.93 L70.0 110.23 L71.0 110.51 L72.0 110.78 L73.0 111.04 L74.0 111.30 L75.0 111.55 L76.0 111.79 L77.0 112.02 L78.0 112.25 L79.0 112.47 L80.0 112.68 L81.0 112.89 L82.0 113.09 L83.0 113.29 L84.0 113.48 L85.0 113.66 L86.0 113.85 L87.0 114.03 L88.0 114.21 L89.0 114.38 L90.0 114.56 L91.0 114.73 L92.0 114.91 L93.0 115.09 L94.0 115.26 L95.0 115.44 L96.0 115.61 L97.0 115.79 L98.0 115.96 L99.0 116.13 L100.0 116.29 L101.0 116.46 L102.0 116.62 L103.0 116.78 L104.0 116.93 L105.0 117.08 L106.0 117.23 L107.0 117.38 L108.0 117.51 L109.0 117.65 L110.0 117.78 L111.0 117.90 L112.0 118.02 L113.0 118.13 L114.0 118.23 L115.0 118.33 L116.0 118.43 L117.0 118.52 L118.0 118.61 L119.0 118.70 L120.0 118.79 L121.0 118.87 L122.0 118.96 L123.0 119.04 L124.0 119.11 L125.0 119.19 L126.0 119.26 L127.0 119.34 L128.0 119.41 L129.0 119.48 L130.0 119.55 L131.0 119.62 L132.0 119.68 L133.0 119.75 L134.0 119.82 L135.0 119.88 L136.0 119.95 L137.0 120.01 L138.0 120.08 L139.0 120.15 L140.0 120.21 L141.0 120.27 L142.0 120.34 L143.0 120.40 L144.0 120.46 L145.0 120.53 L146.0 120.59 L147.0 120.65 L148.0 120.71 L149.0 120.77 L150.0 120.83 L151.0 120.89 L152.0 120.94 L153.0 121.00 L154.0 121.06 L155.0 121.12 L156.0 121.17 L157.0 121.23 L158.0 121.28 L159.0 121.34 L160.0 121.39 L161.0 121.45 L162.0 121.50 L163.0 121.56 L164.0 121.61 L165.0 121.66 L166.0 121.72 L167.0 121.77 L168.0 121.82 L169.0 121.88 L170.0 121.93 L171.0 121.98 L172.0 122.03 L173.0 122.08 L174.0 122.13 L175.0 122.19 L176.0 122.24 L177.0 122.29 L178.0 122.34 L179.0 122.39 L180.0 122.44 L181.0 122.49 L182.0 122.54 L183.0 122.59 L184.0 122.64 L185.0 122.69 L186.0 122.74 L187.0 122.79 L188.0 122.84 L189.0 122.89 L190.0 122.95 L191.0 123.00 L192.0 123.05 L193.0 123.10 L194.0 123.15 L195.0 123.20 L196.0 123.25 L197.0 123.30 L198.0 123.35 L199.0 123.40 L200.0 123.45 L201.0 123.50 L202.0 123.55 L203.0 123.60 L204.0 123.65 L205.0 123.70 L206.0 123.75 L207.0 123.80 L208.0 123.85 L209.0 123.90 L210.0 123.95 L211.0 124.00 L212.0 124.05 L213.0 124.10 L214.0 124.14 L215.0 124.19 L216.0 124.24 L217.0 124.29 L218.0 124.33 L219.0 124.38 L220.0 124.43 L221.0 124.47 L222.0 124.52 L223.0 124.56 L224.0 124.61 L225.0 124.65 L226.0 124.70 L227.0 124.74 L228.0 124.78 L229.0 124.83 L230.0 124.87 L231.0 124.91 L232.0 124.95 L233.0 124.99 L234.0 125.03 L235.0 125.07 L236.0 125.11 L237.0 125.15 L238.0 125.19 L239.0 125.23 L240.0 125.26 L241.0 125.30 L242.0 125.34 L243.0 125.37 L244.0 125.41 L245.0 125.44 L246.0 125.48 L247.0 125.51 L248.0 125.55 L249.0 125.58 L250.0 125.62 L251.0 125.65 L252.0 125.68 L253.0 125.72 L254.0 125.75 L255.0 125.78 L256.0 125.81 L257.0 125.84 L258.0 125.88 L259.0 125.91 L260.0 125.94 L261.0 125.97 L262.0 126.00 L263.0 126.03 L264.0 126.06 L265.0 126.09 L266.0 126.12 L267.0 126.15 L268.0 126.18 L269.0 126.21 L270.0 126.24 L271.0 126.27 L272.0 126.30 L273.0 126.33 L274.0 126.36 L275.0 126.39 L276.0 126.42 L277.0 126.45 L278.0 126.48 L279.0 126.51 L280.0 126.53 L281.0 126.56 L282.0 126.59 L283.0 126.62 L284.0 126.65 L285.0 126.68 L286.0 126.71 L287.0 126.74 L288.0 126.77 L289.0 126.80 L290.0 126.83 L291.0 126.86 L292.0 126.88 L293.0 126.91 L294.0 126.94 L295.0 126.97 L296.0 127.00 L297.0 127.02 L298.0 127.05 L299.0 127.08 L300.0 127.11 L301.0 127.13 L302.0 127.16 L303.0 127.19 L304.0 127.22 L305.0 127.24 L306.0 127.27 L307.0 127.30 L308.0 127.33 L309.0 127.36 L310.0 127.39 L311.0 127.41 L312.0 127.44 L313.0 127.47 L314.0 127.50 L315.0 127.53 L316.0 127.56 L317.0 127.59 L318.0 127.62 L319.0 127.65 L320.0 127.68 L321.0 127.71 L322.0 127.74 L323.0 127.77 L324.0 127.80 L325.0 127.83 L326.0 127.86 L327.0 127.89 L328.0 127.92 L329.0 127.94 L330.0 127.97 L331.0 128.00 L332.0 128.03 L333.0 128.06 L334.0 128.08 L335.0 128.11 L336.0 128.14 L337.0 128.17 L338.0 128.19 L339.0 128.22 L340.0 128.24 L341.0 128.27 L342.0 128.30 L343.0 128.32 L344.0 128.35 L345.0 128.37 L346.0 128.40 L347.0 128.42 L348.0 128.45 L349.0 128.48 L350.0 128.50 L351.0 128.53 L352.0 128.55 L353.0 128.58 L354.0 128.60 L355.0 128.63 L356.0 128.65 L357.0 128.68 L358.0 128.70 L359.0 128.73 L360.0 128.75 L361.0 128.78 L362.0 128.80 L363.0 128.82 L364.0 128.85 L365.0 128.87 L366.0 128.90 L367.0 128.92 L368.0 128.95 L369.0 128.97 L370.0 128.99 L371.0 129.02 L372.0 129.04 L373.0 129.06 L374.0 129.09 L375.0 129.11 L376.0 129.13 L377.0 129.16 L378.0 129.18 L379.0 129.20 L380.0 129.23 L381.0 129.25 L382.0 129.27 L383.0 129.29 L384.0 129.32 L385.0 129.34 L386.0 129.36 L387.0 129.38 L388.0 129.41 L389.0 129.43 L390.0 129.45 L391.0 129.47 L392.0 129.49 L393.0 129.51 L394.0 129.53 L395.0 129.56 L396.0 129.58 L397.0 129.60 L398.0 129.62 L399.0 129.64 L400.0 129.66 L401.0 129.68 L402.0 129.70 L403.0 129.72 L404.0 129.74 L405.0 129.76 L406.0 129.78 L407.0 129.80" stroke="#f01818" stroke-width="1.0" stroke-dasharray="5.2 3.8"/>
<path d="M40.0 108.50 L41.0 109.71 L42.0 110.90 L43.0 112.08 L44.0 113.25 L45.0 114.47 L46.0 115.66 L47.0 116.73 L48.0 117.60 L49.0 118.37 L50.0 119.06 L51.0 119.70 L52.0 120.30 L53.0 120.89 L54.0 121.46 L55.0 122.00 L56.0 122.51 L57.0 122.99 L58.0 123.43 L59.0 123.84 L60.0 124.22 L61.0 124.58 L62.0 124.92 L63.0 125.23 L64.0 125.52 L65.0 125.79 L66.0 126.05 L67.0 126.29 L68.0 126.52 L69.0 126.74 L70.0 126.96 L71.0 127.17 L72.0 127.37 L73.0 127.55 L74.0 127.72 L75.0 127.87 L76.0 128.02 L77.0 128.15 L78.0 128.28 L79.0 128.39 L80.0 128.49 L81.0 128.58 L82.0 128.66 L83.0 128.74 L84.0 128.82 L85.0 128.90 L86.0 128.98 L87.0 129.06 L88.0 129.14 L89.0 129.22 L90.0 129.29 L91.0 129.37 L92.0 129.44 L93.0 129.51 L94.0 129.57 L95.0 129.64 L96.0 129.70 L97.0 129.76 L98.0 129.82 L99.0 129.87 L100.0 129.93 L101.0 129.98 L102.0 130.03 L103.0 130.08 L104.0 130.13 L105.0 130.18 L106.0 130.23 L107.0 130.28 L108.0 130.33 L109.0 130.38 L110.0 130.42 L111.0 130.47 L112.0 130.52 L113.0 130.57 L114.0 130.61 L115.0 130.66 L116.0 130.71 L117.0 130.76 L118.0 130.81 L119.0 130.86 L120.0 130.91 L121.0 130.95 L122.0 131.00 L123.0 131.04 L124.0 131.08 L125.0 131.12 L126.0 131.16 L127.0 131.20 L128.0 131.23 L129.0 131.27 L130.0 131.31 L131.0 131.34 L132.0 131.38 L133.0 131.41 L134.0 131.45 L135.0 131.48 L136.0 131.51 L137.0 131.55 L138.0 131.58 L139.0 131.61 L140.0 131.64 L141.0 131.67 L142.0 131.70 L143.0 131.73 L144.0 131.76 L145.0 131.79 L146.0 131.82 L147.0 131.85 L148.0 131.88 L149.0 131.91 L150.0 131.93 L151.0 131.96 L152.0 131.99 L153.0 132.01 L154.0 132.04 L155.0 132.06 L156.0 132.09 L157.0 132.12 L158.0 132.14 L159.0 132.17 L160.0 132.19 L161.0 132.21 L162.0 132.24 L163.0 132.26 L164.0 132.29 L165.0 132.31 L166.0 132.33 L167.0 132.36 L168.0 132.38 L169.0 132.40 L170.0 132.42 L171.0 132.44 L172.0 132.47 L173.0 132.49 L174.0 132.51 L175.0 132.53 L176.0 132.55 L177.0 132.57 L178.0 132.59 L179.0 132.61 L180.0 132.63 L181.0 132.65 L182.0 132.67 L183.0 132.69 L184.0 132.71 L185.0 132.73 L186.0 132.74 L187.0 132.76 L188.0 132.78 L189.0 132.80 L190.0 132.82 L191.0 132.83 L192.0 132.85 L193.0 132.87 L194.0 132.88 L195.0 132.90 L196.0 132.92 L197.0 132.93 L198.0 132.95 L199.0 132.96 L200.0 132.98 L201.0 132.99 L202.0 133.01 L203.0 133.02 L204.0 133.04 L205.0 133.05 L206.0 133.07 L207.0 133.08 L208.0 133.10 L209.0 133.11 L210.0 133.13 L211.0 133.14 L212.0 133.15 L213.0 133.17 L214.0 133.18 L215.0 133.20 L216.0 133.21 L217.0 133.22 L218.0 133.24 L219.0 133.25 L220.0 133.26 L221.0 133.28 L222.0 133.29 L223.0 133.30 L224.0 133.32 L225.0 133.33 L226.0 133.34 L227.0 133.35 L228.0 133.37 L229.0 133.38 L230.0 133.39 L231.0 133.41 L232.0 133.42 L233.0 133.43 L234.0 133.44 L235.0 133.46 L236.0 133.47 L237.0 133.48 L238.0 133.50 L239.0 133.51 L240.0 133.52 L241.0 133.53 L242.0 133.55 L243.0 133.56 L244.0 133.57 L245.0 133.59 L246.0 133.60 L247.0 133.61 L248.0 133.62 L249.0 133.64 L250.0 133.65 L251.0 133.66 L252.0 133.67 L253.0 133.69 L254.0 133.70 L255.0 133.71 L256.0 133.72 L257.0 133.73 L258.0 133.75 L259.0 133.76 L260.0 133.77 L261.0 133.78 L262.0 133.80 L263.0 133.81 L264.0 133.82 L265.0 133.83 L266.0 133.84 L267.0 133.85 L268.0 133.87 L269.0 133.88 L270.0 133.89 L271.0 133.90 L272.0 133.91 L273.0 133.93 L274.0 133.94 L275.0 133.95 L276.0 133.96 L277.0 133.97 L278.0 133.98 L279.0 133.99 L280.0 134.01 L281.0 134.02 L282.0 134.03 L283.0 134.04 L284.0 134.05 L285.0 134.06 L286.0 134.07 L287.0 134.08 L288.0 134.10 L289.0 134.11 L290.0 134.12 L291.0 134.13 L292.0 134.14 L293.0 134.15 L294.0 134.16 L295.0 134.17 L296.0 134.18 L297.0 134.19 L298.0 134.20 L299.0 134.22 L300.0 134.23 L301.0 134.24 L302.0 134.25 L303.0 134.26 L304.0 134.27 L305.0 134.28 L306.0 134.29 L307.0 134.30 L308.0 134.31 L309.0 134.32 L310.0 134.33 L311.0 134.34 L312.0 134.35 L313.0 134.36 L314.0 134.37 L315.0 134.38 L316.0 134.39 L317.0 134.40 L318.0 134.41 L319.0 134.42 L320.0 134.42 L321.0 134.43 L322.0 134.44 L323.0 134.45 L324.0 134.46 L325.0 134.47 L326.0 134.48 L327.0 134.49 L328.0 134.50 L329.0 134.51 L330.0 134.52 L331.0 134.53 L332.0 134.54 L333.0 134.55 L334.0 134.56 L335.0 134.57 L336.0 134.58 L337.0 134.59 L338.0 134.60 L339.0 134.61 L340.0 134.62 L341.0 134.63 L342.0 134.64 L343.0 134.65 L344.0 134.66 L345.0 134.67 L346.0 134.69 L347.0 134.70 L348.0 134.71 L349.0 134.72 L350.0 134.73 L351.0 134.74 L352.0 134.75 L353.0 134.77 L354.0 134.78 L355.0 134.79 L356.0 134.80 L357.0 134.81 L358.0 134.83 L359.0 134.84 L360.0 134.85 L361.0 134.86 L362.0 134.87 L363.0 134.89 L364.0 134.90 L365.0 134.91 L366.0 134.92 L367.0 134.94 L368.0 134.95 L369.0 134.96 L370.0 134.98 L371.0 134.99 L372.0 135.00 L373.0 135.01 L374.0 135.03 L375.0 135.04 L376.0 135.05 L377.0 135.07 L378.0 135.08 L379.0 135.09 L380.0 135.11 L381.0 135.12 L382.0 135.14 L383.0 135.15 L384.0 135.16 L385.0 135.18 L386.0 135.19 L387.0 135.20 L388.0 135.22 L389.0 135.23 L390.0 135.25 L391.0 135.26 L392.0 135.28 L393.0 135.29 L394.0 135.30 L395.0 135.32 L396.0 135.33 L397.0 135.35 L398.0 135.36 L399.0 135.38 L400.0 135.39 L401.0 135.41 L402.0 135.42 L403.0 135.44 L404.0 135.45 L405.0 135.47 L406.0 135.48 L407.0 135.50" stroke="#f01818" stroke-width="1.2" stroke-dasharray="1.5 4.1"/>
<path d="M40.0 143.50 L41.0 144.44 L42.0 145.35 L43.0 146.22 L44.0 147.05 L45.0 147.85 L46.0 148.61 L47.0 149.34 L48.0 150.04 L49.0 150.71 L50.0 151.32 L51.0 151.90 L52.0 152.43 L53.0 152.93 L54.0 153.40 L55.0 153.82 L56.0 154.21 L57.0 154.58 L58.0 154.91 L59.0 155.24 L60.0 155.55 L61.0 155.86 L62.0 156.16 L63.0 156.43 L64.0 156.67 L65.0 156.88 L66.0 157.08 L67.0 157.27 L68.0 157.45 L69.0 157.62 L70.0 157.79 L71.0 157.95 L72.0 158.09 L73.0 158.22 L74.0 158.34 L75.0 158.45 L76.0 158.54 L77.0 158.61 L78.0 158.67 L79.0 158.73 L80.0 158.79 L81.0 158.85 L82.0 158.90 L83.0 158.95 L84.0 158.99 L85.0 159.03 L86.0 159.06 L87.0 159.08 L88.0 159.09 L89.0 159.10 L90.0 159.10 L91.0 159.10 L92.0 159.10 L93.0 159.10 L94.0 159.10 L95.0 159.10 L96.0 159.10 L97.0 159.10 L98.0 159.10 L99.0 159.10 L100.0 159.10 L101.0 159.10 L102.0 159.09 L103.0 159.08 L104.0 159.07 L105.0 159.05 L106.0 159.03 L107.0 159.00 L108.0 158.98 L109.0 158.95 L110.0 158.91 L111.0 158.88 L112.0 158.84 L113.0 158.80 L114.0 158.76 L115.0 158.72 L116.0 158.68 L117.0 158.64 L118.0 158.59 L119.0 158.55 L120.0 158.50 L121.0 158.46 L122.0 158.41 L123.0 158.37 L124.0 158.33 L125.0 158.28 L126.0 158.24 L127.0 158.19 L128.0 158.14 L129.0 158.09 L130.0 158.03 L131.0 157.98 L132.0 157.92 L133.0 157.86 L134.0 157.80 L135.0 157.73 L136.0 157.67 L137.0 157.60 L138.0 157.54 L139.0 157.47 L140.0 157.40 L141.0 157.34 L142.0 157.27 L143.0 157.20 L144.0 157.13 L145.0 157.07 L146.0 157.00 L147.0 156.93 L148.0 156.87 L149.0 156.81 L150.0 156.74 L151.0 156.68 L152.0 156.62 L153.0 156.55 L154.0 156.49 L155.0 156.42 L156.0 156.36 L157.0 156.29 L158.0 156.23 L159.0 156.16 L160.0 156.10 L161.0 156.03 L162.0 155.97 L163.0 155.90 L164.0 155.83 L165.0 155.77 L166.0 155.70 L167.0 155.64 L168.0 155.57 L169.0 155.51 L170.0 155.44 L171.0 155.38 L172.0 155.31 L173.0 155.25 L174.0 155.18 L175.0 155.12 L176.0 155.05 L177.0 154.98 L178.0 154.92 L179.0 154.85 L180.0 154.78 L181.0 154.72 L182.0 154.65 L183.0 154.58 L184.0 154.51 L185.0 154.45 L186.0 154.38 L187.0 154.31 L188.0 154.25 L189.0 154.18 L190.0 154.11 L191.0 154.05 L192.0 153.98 L193.0 153.92 L194.0 153.86 L195.0 153.80 L196.0 153.73 L197.0 153.67 L198.0 153.62 L199.0 153.56 L200.0 153.50 L201.0 153.44 L202.0 153.39 L203.0 153.33 L204.0 153.28 L205.0 153.23 L206.0 153.18 L207.0 153.13 L208.0 153.07 L209.0 153.03 L210.0 152.98 L211.0 152.93 L212.0 152.88 L213.0 152.83 L214.0 152.79 L215.0 152.74 L216.0 152.69 L217.0 152.64 L218.0 152.60 L219.0 152.55 L220.0 152.50 L221.0 152.45 L222.0 152.41 L223.0 152.36 L224.0 152.31 L225.0 152.27 L226.0 152.22 L227.0 152.18 L228.0 152.13 L229.0 152.09 L230.0 152.05 L231.0 152.01 L232.0 151.97 L233.0 151.93 L234.0 151.89 L235.0 151.86 L236.0 151.82 L237.0 151.79 L238.0 151.76 L239.0 151.73 L240.0 151.70 L241.0 151.67 L242.0 151.65 L243.0 151.62 L244.0 151.60 L245.0 151.57 L246.0 151.55 L247.0 151.53 L248.0 151.50 L249.0 151.48 L250.0 151.46 L251.0 151.44 L252.0 151.42 L253.0 151.40 L254.0 151.38 L255.0 151.36 L256.0 151.34 L257.0 151.32 L258.0 151.30 L259.0 151.28 L260.0 151.26 L261.0 151.24 L262.0 151.23 L263.0 151.21 L264.0 151.19 L265.0 151.17 L266.0 151.16 L267.0 151.14 L268.0 151.12 L269.0 151.11 L270.0 151.09 L271.0 151.08 L272.0 151.06 L273.0 151.05 L274.0 151.03 L275.0 151.01 L276.0 151.00 L277.0 150.98 L278.0 150.97 L279.0 150.95 L280.0 150.94 L281.0 150.92 L282.0 150.91 L283.0 150.89 L284.0 150.88 L285.0 150.86 L286.0 150.85 L287.0 150.83 L288.0 150.82 L289.0 150.80 L290.0 150.79 L291.0 150.77 L292.0 150.76 L293.0 150.74 L294.0 150.73 L295.0 150.71 L296.0 150.69 L297.0 150.68 L298.0 150.66 L299.0 150.64 L300.0 150.63 L301.0 150.61 L302.0 150.59 L303.0 150.57 L304.0 150.56 L305.0 150.54 L306.0 150.52 L307.0 150.50 L308.0 150.48 L309.0 150.46 L310.0 150.44 L311.0 150.42 L312.0 150.40 L313.0 150.38 L314.0 150.36 L315.0 150.34 L316.0 150.32 L317.0 150.30 L318.0 150.28 L319.0 150.27 L320.0 150.24 L321.0 150.22 L322.0 150.20 L323.0 150.18 L324.0 150.16 L325.0 150.14 L326.0 150.12 L327.0 150.10 L328.0 150.08 L329.0 150.06 L330.0 150.04 L331.0 150.02 L332.0 150.00 L333.0 149.98 L334.0 149.96 L335.0 149.94 L336.0 149.92 L337.0 149.90 L338.0 149.88 L339.0 149.86 L340.0 149.84 L341.0 149.81 L342.0 149.79 L343.0 149.77 L344.0 149.75 L345.0 149.73 L346.0 149.71 L347.0 149.69 L348.0 149.67 L349.0 149.65 L350.0 149.63 L351.0 149.60 L352.0 149.58 L353.0 149.56 L354.0 149.54 L355.0 149.52 L356.0 149.50 L357.0 149.48 L358.0 149.46 L359.0 149.44 L360.0 149.42 L361.0 149.39 L362.0 149.37 L363.0 149.35 L364.0 149.33 L365.0 149.31 L366.0 149.29 L367.0 149.27 L368.0 149.25 L369.0 149.23 L370.0 149.20 L371.0 149.18 L372.0 149.16 L373.0 149.14 L374.0 149.12 L375.0 149.10 L376.0 149.08 L377.0 149.05 L378.0 149.03 L379.0 149.01 L380.0 148.99 L381.0 148.97 L382.0 148.95 L383.0 148.93 L384.0 148.90 L385.0 148.88 L386.0 148.86 L387.0 148.84 L388.0 148.82 L389.0 148.80 L390.0 148.77 L391.0 148.75 L392.0 148.73 L393.0 148.71 L394.0 148.69 L395.0 148.66 L396.0 148.64 L397.0 148.62 L398.0 148.60 L399.0 148.58 L400.0 148.55 L401.0 148.53 L402.0 148.51 L403.0 148.49 L404.0 148.47 L405.0 148.44 L406.0 148.42 L407.0 148.40" stroke="#f01818" stroke-width="0.85"/>
<path d="M40.0 251.00 L41.0 250.98 L42.0 250.95 L43.0 250.93 L44.0 250.91 L45.0 250.89 L46.0 250.87 L47.0 250.86 L48.0 250.84 L49.0 250.83 L50.0 250.81 L51.0 250.80 L52.0 250.79 L53.0 250.78 L54.0 250.76 L55.0 250.75 L56.0 250.74 L57.0 250.73 L58.0 250.71 L59.0 250.70 L60.0 250.69 L61.0 250.67 L62.0 250.65 L63.0 250.64 L64.0 250.62 L65.0 250.60 L66.0 250.58 L67.0 250.56 L68.0 250.54 L69.0 250.51 L70.0 250.49 L71.0 250.46 L72.0 250.43 L73.0 250.40 L74.0 250.37 L75.0 250.34 L76.0 250.31 L77.0 250.27 L78.0 250.24 L79.0 250.20 L80.0 250.16 L81.0 250.11 L82.0 250.07 L83.0 250.01 L84.0 249.94 L85.0 249.87 L86.0 249.80 L87.0 249.72 L88.0 249.64 L89.0 249.57 L90.0 249.50 L91.0 249.43 L92.0 249.37 L93.0 249.30 L94.0 249.23 L95.0 249.16 L96.0 249.10 L97.0 249.03 L98.0 248.97 L99.0 248.91 L100.0 248.85 L101.0 248.80 L102.0 248.75 L103.0 248.70 L104.0 248.65 L105.0 248.60 L106.0 248.55 L107.0 248.51 L108.0 248.46 L109.0 248.42 L110.0 248.37 L111.0 248.33 L112.0 248.29 L113.0 248.25 L114.0 248.21 L115.0 248.17 L116.0 248.13 L117.0 248.09 L118.0 248.05 L119.0 248.01 L120.0 247.98 L121.0 247.94 L122.0 247.90 L123.0 247.86 L124.0 247.83 L125.0 247.79 L126.0 247.76 L127.0 247.73 L128.0 247.70 L129.0 247.66 L130.0 247.63 L131.0 247.60 L132.0 247.57 L133.0 247.54 L134.0 247.51 L135.0 247.47 L136.0 247.44 L137.0 247.41 L138.0 247.37 L139.0 247.34 L140.0 247.30 L141.0 247.26 L142.0 247.22 L143.0 247.18 L144.0 247.14 L145.0 247.10 L146.0 247.05 L147.0 247.01 L148.0 246.96 L149.0 246.92 L150.0 246.87 L151.0 246.83 L152.0 246.78 L153.0 246.73 L154.0 246.68 L155.0 246.64 L156.0 246.59 L157.0 246.54 L158.0 246.50 L159.0 246.45 L160.0 246.40 L161.0 246.36 L162.0 246.31 L163.0 246.27 L164.0 246.23 L165.0 246.18 L166.0 246.14 L167.0 246.10 L168.0 246.06 L169.0 246.01 L170.0 245.97 L171.0 245.93 L172.0 245.89 L173.0 245.85 L174.0 245.80 L175.0 245.76 L176.0 245.72 L177.0 245.68 L178.0 245.64 L179.0 245.60 L180.0 245.56 L181.0 245.52 L182.0 245.48 L183.0 245.44 L184.0 245.40 L185.0 245.36 L186.0 245.32 L187.0 245.28 L188.0 245.24 L189.0 245.20 L190.0 245.17 L191.0 245.13 L192.0 245.09 L193.0 245.05 L194.0 245.01 L195.0 244.98 L196.0 244.94 L197.0 244.90 L198.0 244.86 L199.0 244.83 L200.0 244.79 L201.0 244.75 L202.0 244.72 L203.0 244.68 L204.0 244.65 L205.0 244.61 L206.0 244.57 L207.0 244.54 L208.0 244.50 L209.0 244.47 L210.0 244.43 L211.0 244.40 L212.0 244.36 L213.0 244.32 L214.0 244.29 L215.0 244.25 L216.0 244.22 L217.0 244.18 L218.0 244.15 L219.0 244.11 L220.0 244.08 L221.0 244.05 L222.0 244.01 L223.0 243.98 L224.0 243.94 L225.0 243.91 L226.0 243.87 L227.0 243.84 L228.0 243.81 L229.0 243.77 L230.0 243.74 L231.0 243.70 L232.0 243.67 L233.0 243.64 L234.0 243.60 L235.0 243.57 L236.0 243.53 L237.0 243.50 L238.0 243.47 L239.0 243.43 L240.0 243.40 L241.0 243.37 L242.0 243.33 L243.0 243.30 L244.0 243.26 L245.0 243.23 L246.0 243.19 L247.0 243.16 L248.0 243.12 L249.0 243.09 L250.0 243.05 L251.0 243.02 L252.0 242.99 L253.0 242.96 L254.0 242.93 L255.0 242.90 L256.0 242.87 L257.0 242.84 L258.0 242.82 L259.0 242.79 L260.0 242.76 L261.0 242.74 L262.0 242.71 L263.0 242.69 L264.0 242.66 L265.0 242.64 L266.0 242.61 L267.0 242.59 L268.0 242.57 L269.0 242.54 L270.0 242.52 L271.0 242.50 L272.0 242.47 L273.0 242.45 L274.0 242.43 L275.0 242.41 L276.0 242.38 L277.0 242.36 L278.0 242.34 L279.0 242.32 L280.0 242.30 L281.0 242.27 L282.0 242.25 L283.0 242.23 L284.0 242.21 L285.0 242.19 L286.0 242.17 L287.0 242.15 L288.0 242.12 L289.0 242.10 L290.0 242.08 L291.0 242.06 L292.0 242.04 L293.0 242.02 L294.0 242.00 L295.0 241.97 L296.0 241.95 L297.0 241.93 L298.0 241.91 L299.0 241.89 L300.0 241.87 L301.0 241.85 L302.0 241.83 L303.0 241.81 L304.0 241.79 L305.0 241.77 L306.0 241.75 L307.0 241.73 L308.0 241.71 L309.0 241.69 L310.0 241.67 L311.0 241.65 L312.0 241.63 L313.0 241.61 L314.0 241.59 L315.0 241.57 L316.0 241.55 L317.0 241.53 L318.0 241.51 L319.0 241.49 L320.0 241.47 L321.0 241.45 L322.0 241.43 L323.0 241.41 L324.0 241.40 L325.0 241.38 L326.0 241.36 L327.0 241.34 L328.0 241.32 L329.0 241.30 L330.0 241.28 L331.0 241.26 L332.0 241.25 L333.0 241.23 L334.0 241.21 L335.0 241.19 L336.0 241.17 L337.0 241.15 L338.0 241.14 L339.0 241.12 L340.0 241.10 L341.0 241.08 L342.0 241.06 L343.0 241.05 L344.0 241.03 L345.0 241.01 L346.0 240.99 L347.0 240.98 L348.0 240.96 L349.0 240.94 L350.0 240.92 L351.0 240.90 L352.0 240.89 L353.0 240.87 L354.0 240.85 L355.0 240.84 L356.0 240.82 L357.0 240.80 L358.0 240.78 L359.0 240.77 L360.0 240.75 L361.0 240.73 L362.0 240.71 L363.0 240.70 L364.0 240.68 L365.0 240.66 L366.0 240.65 L367.0 240.63 L368.0 240.61 L369.0 240.60 L370.0 240.58 L371.0 240.56 L372.0 240.55 L373.0 240.53 L374.0 240.51 L375.0 240.50 L376.0 240.48 L377.0 240.46 L378.0 240.45 L379.0 240.43 L380.0 240.42 L381.0 240.40 L382.0 240.38 L383.0 240.37 L384.0 240.35 L385.0 240.34 L386.0 240.32 L387.0 240.30 L388.0 240.29 L389.0 240.27 L390.0 240.26 L391.0 240.24 L392.0 240.23 L393.0 240.21 L394.0 240.19 L395.0 240.18 L396.0 240.16 L397.0 240.15 L398.0 240.13 L399.0 240.12 L400.0 240.10 L401.0 240.09 L402.0 240.07 L403.0 240.06 L404.0 240.04 L405.0 240.03 L406.0 240.01 L407.0 240.00" stroke="#f01818" stroke-width="0.85"/>
<path d="M40.0 126.30 L41.0 127.01 L42.0 127.71 L43.0 128.37 L44.0 129.00 L45.0 129.59 L46.0 130.16 L47.0 130.72 L48.0 131.27 L49.0 131.79 L50.0 132.30 L51.0 132.79 L52.0 133.26 L53.0 133.71 L54.0 134.12 L55.0 134.51 L56.0 134.88 L57.0 135.24 L58.0 135.58 L59.0 135.90 L60.0 136.21 L61.0 136.51 L62.0 136.79 L63.0 137.07 L64.0 137.34 L65.0 137.60 L66.0 137.84 L67.0 138.07 L68.0 138.30 L69.0 138.54 L70.0 138.78 L71.0 139.02 L72.0 139.27 L73.0 139.52 L74.0 139.76 L75.0 140.00 L76.0 140.23 L77.0 140.44 L78.0 140.65 L79.0 140.83 L80.0 141.00 L81.0 141.15 L82.0 141.30 L83.0 141.43 L84.0 141.56 L85.0 141.68 L86.0 141.80 L87.0 141.91 L88.0 142.02 L89.0 142.13 L90.0 142.23 L91.0 142.34 L92.0 142.44 L93.0 142.55 L94.0 142.65 L95.0 142.75 L96.0 142.85 L97.0 142.95 L98.0 143.05 L99.0 143.15 L100.0 143.24 L101.0 143.34 L102.0 143.43 L103.0 143.52 L104.0 143.61 L105.0 143.70 L106.0 143.79 L107.0 143.88 L108.0 143.97 L109.0 144.06 L110.0 144.15 L111.0 144.23 L112.0 144.32 L113.0 144.41 L114.0 144.49 L115.0 144.58 L116.0 144.66 L117.0 144.75 L118.0 144.83 L119.0 144.92 L120.0 145.00 L121.0 145.09 L122.0 145.17 L123.0 145.26 L124.0 145.35 L125.0 145.44 L126.0 145.52 L127.0 145.61 L128.0 145.70 L129.0 145.78 L130.0 145.86 L131.0 145.93 L132.0 146.00 L133.0 146.07 L134.0 146.13 L135.0 146.19 L136.0 146.25 L137.0 146.31 L138.0 146.36 L139.0 146.42 L140.0 146.47 L141.0 146.52 L142.0 146.57 L143.0 146.62 L144.0 146.67 L145.0 146.72 L146.0 146.77 L147.0 146.82 L148.0 146.86 L149.0 146.91 L150.0 146.96 L151.0 147.00 L152.0 147.05 L153.0 147.10 L154.0 147.15 L155.0 147.19 L156.0 147.24 L157.0 147.29 L158.0 147.34 L159.0 147.39 L160.0 147.45 L161.0 147.50 L162.0 147.55 L163.0 147.61 L164.0 147.67 L165.0 147.72 L166.0 147.78 L167.0 147.84 L168.0 147.90 L169.0 147.96 L170.0 148.02 L171.0 148.08 L172.0 148.14 L173.0 148.20 L174.0 148.26 L175.0 148.32 L176.0 148.38 L177.0 148.44 L178.0 148.50 L179.0 148.55 L180.0 148.61 L181.0 148.67 L182.0 148.73 L183.0 148.78 L184.0 148.84 L185.0 148.89 L186.0 148.95 L187.0 149.00 L188.0 149.05 L189.0 149.10 L190.0 149.15 L191.0 149.20 L192.0 149.25 L193.0 149.30 L194.0 149.34 L195.0 149.39 L196.0 149.44 L197.0 149.49 L198.0 149.53 L199.0 149.58 L200.0 149.63 L201.0 149.67 L202.0 149.72 L203.0 149.76 L204.0 149.81 L205.0 149.85 L206.0 149.90 L207.0 149.94 L208.0 149.99 L209.0 150.03 L210.0 150.07 L211.0 150.12 L212.0 150.16 L213.0 150.20 L214.0 150.24 L215.0 150.29 L216.0 150.33 L217.0 150.37 L218.0 150.41 L219.0 150.45 L220.0 150.49 L221.0 150.53 L222.0 150.57 L223.0 150.61 L224.0 150.64 L225.0 150.68 L226.0 150.72 L227.0 150.76 L228.0 150.79 L229.0 150.83 L230.0 150.86 L231.0 150.90 L232.0 150.94 L233.0 150.97 L234.0 151.01 L235.0 151.04 L236.0 151.07 L237.0 151.11 L238.0 151.14 L239.0 151.18 L240.0 151.21 L241.0 151.25 L242.0 151.28 L243.0 151.31 L244.0 151.35 L245.0 151.38 L246.0 151.41 L247.0 151.45 L248.0 151.48 L249.0 151.51 L250.0 151.54 L251.0 151.58 L252.0 151.61 L253.0 151.64 L254.0 151.67 L255.0 151.70 L256.0 151.74 L257.0 151.77 L258.0 151.80 L259.0 151.83 L260.0 151.86 L261.0 151.89 L262.0 151.92 L263.0 151.95 L264.0 151.98 L265.0 152.01 L266.0 152.04 L267.0 152.07 L268.0 152.10 L269.0 152.13 L270.0 152.16 L271.0 152.19 L272.0 152.22 L273.0 152.25 L274.0 152.28 L275.0 152.30 L276.0 152.33 L277.0 152.36 L278.0 152.39 L279.0 152.42 L280.0 152.44 L281.0 152.47 L282.0 152.50 L283.0 152.52 L284.0 152.55 L285.0 152.58 L286.0 152.60 L287.0 152.63 L288.0 152.65 L289.0 152.68 L290.0 152.70 L291.0 152.73 L292.0 152.75 L293.0 152.78 L294.0 152.80 L295.0 152.83 L296.0 152.85 L297.0 152.88 L298.0 152.90 L299.0 152.92 L300.0 152.95 L301.0 152.97 L302.0 152.99 L303.0 153.01 L304.0 153.04 L305.0 153.06 L306.0 153.08 L307.0 153.10 L308.0 153.12 L309.0 153.14 L310.0 153.16 L311.0 153.18 L312.0 153.20 L313.0 153.23 L314.0 153.25 L315.0 153.27 L316.0 153.29 L317.0 153.31 L318.0 153.33 L319.0 153.35 L320.0 153.37 L321.0 153.39 L322.0 153.41 L323.0 153.42 L324.0 153.44 L325.0 153.46 L326.0 153.48 L327.0 153.50 L328.0 153.52 L329.0 153.54 L330.0 153.56 L331.0 153.58 L332.0 153.59 L333.0 153.61 L334.0 153.63 L335.0 153.65 L336.0 153.67 L337.0 153.68 L338.0 153.70 L339.0 153.72 L340.0 153.74 L341.0 153.75 L342.0 153.77 L343.0 153.79 L344.0 153.80 L345.0 153.82 L346.0 153.84 L347.0 153.85 L348.0 153.87 L349.0 153.89 L350.0 153.90 L351.0 153.92 L352.0 153.93 L353.0 153.95 L354.0 153.97 L355.0 153.98 L356.0 154.00 L357.0 154.01 L358.0 154.03 L359.0 154.04 L360.0 154.06 L361.0 154.07 L362.0 154.08 L363.0 154.10 L364.0 154.11 L365.0 154.13 L366.0 154.14 L367.0 154.16 L368.0 154.17 L369.0 154.18 L370.0 154.20 L371.0 154.21 L372.0 154.22 L373.0 154.24 L374.0 154.25 L375.0 154.26 L376.0 154.27 L377.0 154.29 L378.0 154.30 L379.0 154.31 L380.0 154.32 L381.0 154.34 L382.0 154.35 L383.0 154.36 L384.0 154.37 L385.0 154.38 L386.0 154.39 L387.0 154.41 L388.0 154.42 L389.0 154.43 L390.0 154.44 L391.0 154.45 L392.0 154.46 L393.0 154.47 L394.0 154.48 L395.0 154.49 L396.0 154.50 L397.0 154.51 L398.0 154.52 L399.0 154.53 L400.0 154.54 L401.0 154.55 L402.0 154.56 L403.0 154.57 L404.0 154.57 L405.0 154.58 L406.0 154.59 L407.0 154.60" stroke="#fb0505" stroke-width="2.6" stroke-dasharray="31 8.6 5.8 8.9" stroke-dashoffset="0"/>
<path d="M40.0 235.10 L41.0 235.08 L42.0 235.06 L43.0 235.03 L44.0 235.01 L45.0 234.99 L46.0 234.96 L47.0 234.94 L48.0 234.91 L49.0 234.89 L50.0 234.86 L51.0 234.83 L52.0 234.81 L53.0 234.78 L54.0 234.75 L55.0 234.72 L56.0 234.69 L57.0 234.67 L58.0 234.64 L59.0 234.61 L60.0 234.58 L61.0 234.56 L62.0 234.53 L63.0 234.50 L64.0 234.48 L65.0 234.45 L66.0 234.43 L67.0 234.40 L68.0 234.38 L69.0 234.36 L70.0 234.34 L71.0 234.32 L72.0 234.30 L73.0 234.28 L74.0 234.26 L75.0 234.25 L76.0 234.23 L77.0 234.21 L78.0 234.20 L79.0 234.18 L80.0 234.16 L81.0 234.15 L82.0 234.13 L83.0 234.12 L84.0 234.10 L85.0 234.08 L86.0 234.07 L87.0 234.05 L88.0 234.04 L89.0 234.02 L90.0 234.01 L91.0 234.00 L92.0 233.98 L93.0 233.97 L94.0 233.95 L95.0 233.94 L96.0 233.93 L97.0 233.91 L98.0 233.90 L99.0 233.89 L100.0 233.87 L101.0 233.86 L102.0 233.85 L103.0 233.84 L104.0 233.83 L105.0 233.81 L106.0 233.80 L107.0 233.79 L108.0 233.78 L109.0 233.77 L110.0 233.76 L111.0 233.75 L112.0 233.73 L113.0 233.72 L114.0 233.71 L115.0 233.70 L116.0 233.69 L117.0 233.68 L118.0 233.67 L119.0 233.66 L120.0 233.65 L121.0 233.64 L122.0 233.64 L123.0 233.63 L124.0 233.62 L125.0 233.61 L126.0 233.60 L127.0 233.59 L128.0 233.58 L129.0 233.57 L130.0 233.57 L131.0 233.56 L132.0 233.55 L133.0 233.54 L134.0 233.53 L135.0 233.53 L136.0 233.52 L137.0 233.51 L138.0 233.50 L139.0 233.49 L140.0 233.49 L141.0 233.48 L142.0 233.47 L143.0 233.46 L144.0 233.46 L145.0 233.45 L146.0 233.44 L147.0 233.43 L148.0 233.43 L149.0 233.42 L150.0 233.41 L151.0 233.40 L152.0 233.40 L153.0 233.39 L154.0 233.38 L155.0 233.38 L156.0 233.37 L157.0 233.36 L158.0 233.36 L159.0 233.35 L160.0 233.34 L161.0 233.34 L162.0 233.33 L163.0 233.33 L164.0 233.32 L165.0 233.31 L166.0 233.31 L167.0 233.30 L168.0 233.30 L169.0 233.29 L170.0 233.29 L171.0 233.28 L172.0 233.28 L173.0 233.27 L174.0 233.27 L175.0 233.26 L176.0 233.26 L177.0 233.25 L178.0 233.25 L179.0 233.24 L180.0 233.24 L181.0 233.23 L182.0 233.23 L183.0 233.22 L184.0 233.22 L185.0 233.22 L186.0 233.21 L187.0 233.21 L188.0 233.21 L189.0 233.20 L190.0 233.20 L191.0 233.20 L192.0 233.19 L193.0 233.19 L194.0 233.19 L195.0 233.18 L196.0 233.18 L197.0 233.18 L198.0 233.18 L199.0 233.17 L200.0 233.17 L201.0 233.17 L202.0 233.17 L203.0 233.16 L204.0 233.16 L205.0 233.16 L206.0 233.15 L207.0 233.15 L208.0 233.15 L209.0 233.15 L210.0 233.14 L211.0 233.14 L212.0 233.14 L213.0 233.14 L214.0 233.14 L215.0 233.13 L216.0 233.13 L217.0 233.13 L218.0 233.13 L219.0 233.12 L220.0 233.12 L221.0 233.12 L222.0 233.12 L223.0 233.12 L224.0 233.11 L225.0 233.11 L226.0 233.11 L227.0 233.11 L228.0 233.11 L229.0 233.10 L230.0 233.10 L231.0 233.10 L232.0 233.10 L233.0 233.10 L234.0 233.09 L235.0 233.09 L236.0 233.09 L237.0 233.09 L238.0 233.09 L239.0 233.09 L240.0 233.08 L241.0 233.08 L242.0 233.08 L243.0 233.08 L244.0 233.08 L245.0 233.08 L246.0 233.07 L247.0 233.07 L248.0 233.07 L249.0 233.07 L250.0 233.07 L251.0 233.07 L252.0 233.06 L253.0 233.06 L254.0 233.06 L255.0 233.06 L256.0 233.06 L257.0 233.06 L258.0 233.05 L259.0 233.05 L260.0 233.05 L261.0 233.05 L262.0 233.05 L263.0 233.05 L264.0 233.04 L265.0 233.04 L266.0 233.04 L267.0 233.04 L268.0 233.04 L269.0 233.04 L270.0 233.03 L271.0 233.03 L272.0 233.03 L273.0 233.03 L274.0 233.03 L275.0 233.03 L276.0 233.02 L277.0 233.02 L278.0 233.02 L279.0 233.02 L280.0 233.02 L281.0 233.02 L282.0 233.01 L283.0 233.01 L284.0 233.01 L285.0 233.01 L286.0 233.01 L287.0 233.01 L288.0 233.00 L289.0 233.00 L290.0 233.00 L291.0 233.00 L292.0 233.00 L293.0 232.99 L294.0 232.99 L295.0 232.99 L296.0 232.99 L297.0 232.99 L298.0 232.99 L299.0 232.98 L300.0 232.98 L301.0 232.98 L302.0 232.98 L303.0 232.98 L304.0 232.97 L305.0 232.97 L306.0 232.97 L307.0 232.97 L308.0 232.97 L309.0 232.97 L310.0 232.96 L311.0 232.96 L312.0 232.96 L313.0 232.96 L314.0 232.96 L315.0 232.95 L316.0 232.95 L317.0 232.95 L318.0 232.95 L319.0 232.95 L320.0 232.95 L321.0 232.94 L322.0 232.94 L323.0 232.94 L324.0 232.94 L325.0 232.94 L326.0 232.93 L327.0 232.93 L328.0 232.93 L329.0 232.93 L330.0 232.93 L331.0 232.93 L332.0 232.92 L333.0 232.92 L334.0 232.92 L335.0 232.92 L336.0 232.92 L337.0 232.92 L338.0 232.91 L339.0 232.91 L340.0 232.91 L341.0 232.91 L342.0 232.91 L343.0 232.91 L344.0 232.90 L345.0 232.90 L346.0 232.90 L347.0 232.90 L348.0 232.90 L349.0 232.89 L350.0 232.89 L351.0 232.89 L352.0 232.89 L353.0 232.89 L354.0 232.89 L355.0 232.88 L356.0 232.88 L357.0 232.88 L358.0 232.88 L359.0 232.88 L360.0 232.88 L361.0 232.87 L362.0 232.87 L363.0 232.87 L364.0 232.87 L365.0 232.87 L366.0 232.87 L367.0 232.86 L368.0 232.86 L369.0 232.86 L370.0 232.86 L371.0 232.86 L372.0 232.86 L373.0 232.85 L374.0 232.85 L375.0 232.85 L376.0 232.85 L377.0 232.85 L378.0 232.85 L379.0 232.84 L380.0 232.84 L381.0 232.84 L382.0 232.84 L383.0 232.84 L384.0 232.84 L385.0 232.83 L386.0 232.83 L387.0 232.83 L388.0 232.83 L389.0 232.83 L390.0 232.83 L391.0 232.83 L392.0 232.82 L393.0 232.82 L394.0 232.82 L395.0 232.82 L396.0 232.82 L397.0 232.82 L398.0 232.81 L399.0 232.81 L400.0 232.81 L401.0 232.81 L402.0 232.81 L403.0 232.81 L404.0 232.80 L405.0 232.80 L406.0 232.80 L407.0 232.80" stroke="#fb0505" stroke-width="2.6" stroke-dasharray="31 8.6 5.8 8.9" stroke-dashoffset="0"/>
</g>
<g stroke="#787878" stroke-width="0.75" fill="none">
<rect x="44.5" y="46.5" width="362.0" height="223.5"/>
</g>
<g stroke="#505050" stroke-width="0.8" fill="none">
<path d="M44.5 260.03h2.7 M406.5 260.03h-2.7 M44.5 249.86h4.5 M406.5 249.86h-4.5 M44.5 239.70h2.7 M406.5 239.70h-2.7 M44.5 229.53h2.7 M406.5 229.53h-2.7 M44.5 219.36h2.7 M406.5 219.36h-2.7 M44.5 209.19h4.5 M406.5 209.19h-4.5 M44.5 199.02h2.7 M406.5 199.02h-2.7 M44.5 188.85h2.7 M406.5 188.85h-2.7 M44.5 178.69h2.7 M406.5 178.69h-2.7 M44.5 168.52h4.5 M406.5 168.52h-4.5 M44.5 158.35h2.7 M406.5 158.35h-2.7 M44.5 148.18h2.7 M406.5 148.18h-2.7 M44.5 138.01h2.7 M406.5 138.01h-2.7 M44.5 127.85h4.5 M406.5 127.85h-4.5 M44.5 117.68h2.7 M406.5 117.68h-2.7 M44.5 107.51h2.7 M406.5 107.51h-2.7 M44.5 97.34h2.7 M406.5 97.34h-2.7 M44.5 87.17h4.5 M406.5 87.17h-4.5 M44.5 77.00h2.7 M406.5 77.00h-2.7 M44.5 66.84h2.7 M406.5 66.84h-2.7 M44.5 56.67h2.7 M406.5 56.67h-2.7 M56.37 270.0v-2.7 M67.68 270.0v-2.7 M78.99 270.0v-2.7 M90.30 270.0v-4.5 M101.61 270.0v-2.7 M112.92 270.0v-2.7 M124.23 270.0v-2.7 M135.54 270.0v-2.7 M146.85 270.0v-4.5 M158.16 270.0v-2.7 M169.47 270.0v-2.7 M180.78 270.0v-2.7 M192.09 270.0v-2.7 M203.40 270.0v-4.5 M214.71 270.0v-2.7 M226.02 270.0v-2.7 M237.33 270.0v-2.7 M248.64 270.0v-2.7 M259.95 270.0v-4.5 M271.26 270.0v-2.7 M282.57 270.0v-2.7 M293.88 270.0v-2.7 M305.19 270.0v-2.7 M316.50 270.0v-4.5 M327.81 270.0v-2.7 M339.12 270.0v-2.7 M350.43 270.0v-2.7 M361.74 270.0v-2.7 M373.05 270.0v-4.5 M384.36 270.0v-2.7 M395.67 270.0v-2.7 M78.00 46.5v4.5 M121.34 46.5v4.5 M164.68 46.5v4.5 M208.02 46.5v4.5 M251.36 46.5v4.5 M294.70 46.5v4.5 M338.04 46.5v4.5 M381.38 46.5v4.5"/>
</g>
<g font-family="'Liberation Serif', serif" fill="#000" font-size="16.9px" text-rendering="geometricPrecision" style="filter:grayscale(1)">
<text x="41.3" y="254.16" text-anchor="end">2</text>
<text x="41.3" y="213.49" text-anchor="end">4</text>
<text x="41.3" y="172.82" text-anchor="end">6</text>
<text x="41.3" y="132.15" text-anchor="end">8</text>
<text x="41.3" y="91.47" text-anchor="end">10</text>
<text x="41.3" y="50.20" text-anchor="end">12</text>
<text x="90.30" y="285.6" text-anchor="middle">500</text>
<text x="146.85" y="285.6" text-anchor="middle">1000</text>
<text x="203.40" y="285.6" text-anchor="middle">1500</text>
<text x="259.95" y="285.6" text-anchor="middle">2000</text>
<text x="316.50" y="285.6" text-anchor="middle">2500</text>
<text x="373.05" y="285.6" text-anchor="middle">3000</text>
<text x="78.00" y="38.9" text-anchor="middle">100</text>
<text x="121.34" y="38.9" text-anchor="middle">200</text>
<text x="164.68" y="38.9" text-anchor="middle">300</text>
<text x="208.02" y="38.9" text-anchor="middle">400</text>
<text x="251.36" y="38.9" text-anchor="middle">500</text>
<text x="294.70" y="38.9" text-anchor="middle">600</text>
<text x="338.04" y="38.9" text-anchor="middle">700</text>
<text x="381.38" y="38.9" text-anchor="middle">800</text>
</g>
<g font-family="'Liberation Serif', serif" fill="#000" font-size="17.2px" text-rendering="geometricPrecision" style="filter:grayscale(1)">
<text x="170.5" y="310.2" font-size="16.9px">M(Wino) [GeV]</text>
<text x="188.5" y="13.4"><tspan font-style="italic">m</tspan><tspan font-size="13.2px" dy="3">3/2</tspan><tspan dy="-3"> [TeV]</tspan></text>
<text transform="translate(13.8 193.5) rotate(-90)">mass ratio</text>
</g>
</svg>
</body></html>
